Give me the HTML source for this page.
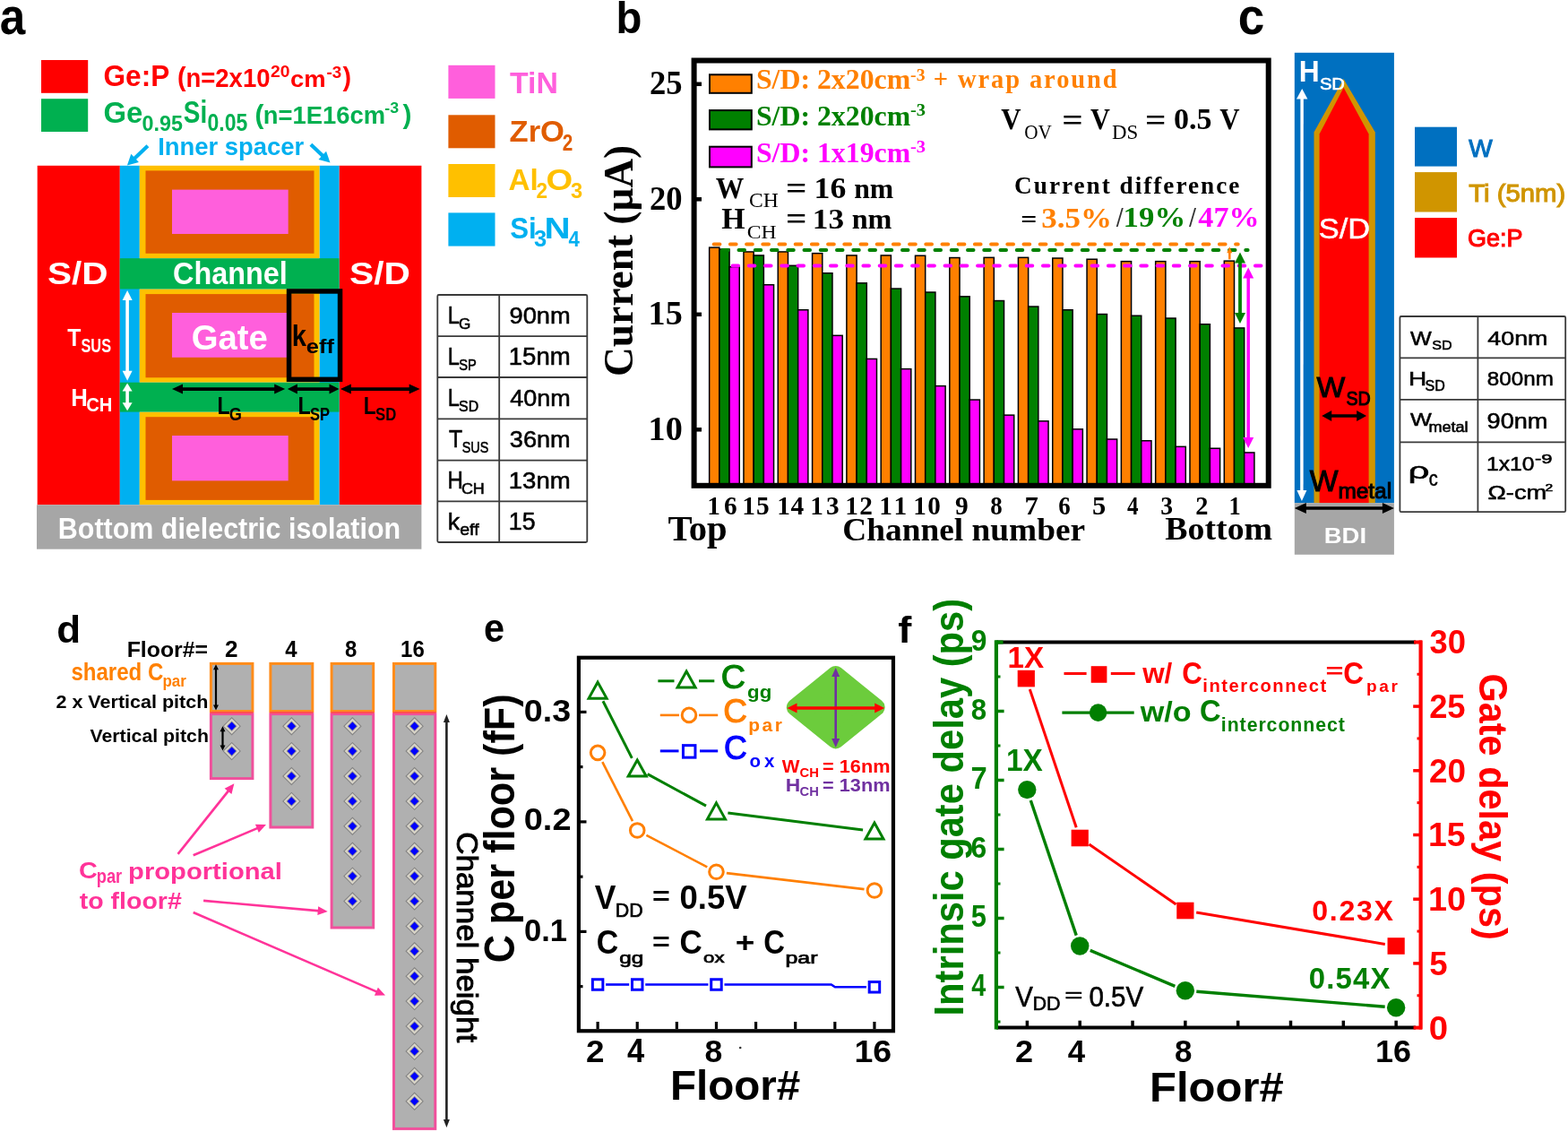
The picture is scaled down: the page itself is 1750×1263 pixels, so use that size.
<!DOCTYPE html>
<html><head><meta charset="utf-8"><title>Figure</title>
<style>
html,body{margin:0;padding:0;background:#fff;}
svg{display:block;}
text{white-space:pre;}
</style></head><body>
<svg width="1750" height="1263" viewBox="0 0 1750 1263">
<rect x="0" y="0" width="1750" height="1263" fill="#fff"/>
<text transform="translate(-0.34,38.20) scale(0.8918,1)" font-family="'Liberation Sans', Arial, sans-serif" font-weight="bold" font-size="57.49" fill="#000">a</text>
<rect x="46.00" y="67.00" width="52.20" height="36.80" fill="#FF0000"/>
<rect x="46.00" y="110.20" width="52.20" height="36.80" fill="#00B050"/>
<text transform="translate(115.54,96.00) scale(0.9417,1)" font-family="'Liberation Sans', Arial, sans-serif" font-weight="bold" font-size="33.55" fill="#FF0000">Ge:P</text>
<text transform="translate(198.07,96.00)" font-family="'Liberation Sans', Arial, sans-serif" font-weight="bold" font-size="28.69" fill="#FF0000">(</text>
<text transform="translate(207.41,96.50) scale(0.9368,1)" font-family="'Liberation Sans', Arial, sans-serif" font-weight="bold" font-size="29.39" fill="#FF0000">n=2x10</text>
<text transform="translate(302.12,85.60) scale(1.0530,1)" font-family="'Liberation Sans', Arial, sans-serif" font-weight="bold" font-size="18.35" fill="#FF0000">20</text>
<text transform="translate(324.10,96.50) scale(1.0449,1)" font-family="'Liberation Sans', Arial, sans-serif" font-weight="bold" font-size="26.23" fill="#FF0000">cm</text>
<text transform="translate(364.45,87.20) scale(1.0194,1)" font-family="'Liberation Sans', Arial, sans-serif" font-weight="bold" font-size="18.35" fill="#FF0000">-3</text>
<text transform="translate(382.43,96.00)" font-family="'Liberation Sans', Arial, sans-serif" font-weight="bold" font-size="28.69" fill="#FF0000">)</text>
<text transform="translate(115.49,136.80) scale(0.9794,1)" font-family="'Liberation Sans', Arial, sans-serif" font-weight="bold" font-size="33.55" fill="#00B050">Ge</text>
<text transform="translate(158.47,145.80) scale(1.0044,1)" font-family="'Liberation Sans', Arial, sans-serif" font-weight="bold" font-size="23.23" fill="#00B050">0.95</text>
<text transform="translate(204.76,136.80) scale(0.8165,1)" font-family="'Liberation Sans', Arial, sans-serif" font-weight="bold" font-size="34.21" fill="#00B050">Si</text>
<text transform="translate(231.48,146.40) scale(0.8359,1)" font-family="'Liberation Sans', Arial, sans-serif" font-weight="bold" font-size="27.53" fill="#00B050">0.05</text>
<text transform="translate(284.51,137.60)" font-family="'Liberation Sans', Arial, sans-serif" font-weight="bold" font-size="29.79" fill="#00B050">(</text>
<text transform="translate(293.82,137.60) scale(0.9947,1)" font-family="'Liberation Sans', Arial, sans-serif" font-weight="bold" font-size="27.53" fill="#00B050">n=1E16cm</text>
<text transform="translate(429.29,125.60) scale(1.1037,1)" font-family="'Liberation Sans', Arial, sans-serif" font-weight="bold" font-size="16.06" fill="#00B050">-3</text>
<text transform="translate(449.43,137.60)" font-family="'Liberation Sans', Arial, sans-serif" font-weight="bold" font-size="29.79" fill="#00B050">)</text>
<rect x="500.40" y="72.80" width="52.10" height="37.10" fill="#FF5FDC"/>
<rect x="500.40" y="128.30" width="52.10" height="37.00" fill="#E05C00"/>
<rect x="500.40" y="183.00" width="52.10" height="37.00" fill="#FFC000"/>
<rect x="500.40" y="237.40" width="52.10" height="37.20" fill="#00B0F0"/>
<text transform="translate(568.96,103.70) scale(1.0358,1)" font-family="'Liberation Sans', Arial, sans-serif" font-weight="bold" font-size="32.69" fill="#FF5FDC">TiN</text>
<text transform="translate(568.56,158.40) scale(1.0167,1)" font-family="'Liberation Sans', Arial, sans-serif" font-weight="bold" font-size="33.98" fill="#E05C00">ZrO</text>
<text transform="translate(627.77,167.50) scale(0.7943,1)" font-family="'Liberation Sans', Arial, sans-serif" font-weight="bold" font-size="26.09" fill="#E05C00">2</text>
<text transform="translate(567.47,212.10) scale(0.9802,1)" font-family="'Liberation Sans', Arial, sans-serif" font-weight="bold" font-size="33.93" fill="#FFC000">Al</text>
<text transform="translate(598.51,221.20) scale(0.9108,1)" font-family="'Liberation Sans', Arial, sans-serif" font-weight="bold" font-size="24.80" fill="#FFC000">2</text>
<text transform="translate(609.57,212.10) scale(1.1222,1)" font-family="'Liberation Sans', Arial, sans-serif" font-weight="bold" font-size="33.98" fill="#FFC000">O</text>
<text transform="translate(637.07,221.20) scale(0.9563,1)" font-family="'Liberation Sans', Arial, sans-serif" font-weight="bold" font-size="24.80" fill="#FFC000">3</text>
<text transform="translate(569.26,265.80) scale(0.9208,1)" font-family="'Liberation Sans', Arial, sans-serif" font-weight="bold" font-size="33.93" fill="#00B0F0">Si</text>
<text transform="translate(596.03,275.00) scale(1.0233,1)" font-family="'Liberation Sans', Arial, sans-serif" font-weight="bold" font-size="24.95" fill="#00B0F0">3</text>
<text transform="translate(607.48,265.80) scale(1.2164,1)" font-family="'Liberation Sans', Arial, sans-serif" font-weight="bold" font-size="33.16" fill="#00B0F0">N</text>
<text transform="translate(634.47,275.00) scale(0.9268,1)" font-family="'Liberation Sans', Arial, sans-serif" font-weight="bold" font-size="24.00" fill="#00B0F0">4</text>
<rect x="41.70" y="184.80" width="92.10" height="378.50" fill="#FF0000"/>
<rect x="378.50" y="184.80" width="91.90" height="378.50" fill="#FF0000"/>
<rect x="133.80" y="184.80" width="22.00" height="378.50" fill="#00B0F0"/>
<rect x="356.50" y="184.80" width="22.00" height="378.50" fill="#00B0F0"/>
<rect x="155.80" y="184.80" width="200.70" height="103.40" fill="#FFC000"/>
<rect x="162.50" y="190.40" width="188.00" height="92.40" fill="#E05C00"/>
<rect x="155.80" y="322.50" width="200.70" height="104.20" fill="#FFC000"/>
<rect x="162.50" y="328.10" width="188.00" height="93.20" fill="#E05C00"/>
<rect x="155.80" y="459.60" width="200.70" height="103.70" fill="#FFC000"/>
<rect x="162.50" y="465.20" width="188.00" height="92.70" fill="#E05C00"/>
<rect x="133.80" y="288.20" width="244.70" height="34.30" fill="#00B050"/>
<rect x="133.80" y="426.70" width="244.70" height="32.90" fill="#00B050"/>
<rect x="192.00" y="211.60" width="129.70" height="49.40" fill="#FF5FDC"/>
<rect x="192.00" y="349.00" width="129.70" height="49.80" fill="#FF5FDC"/>
<rect x="192.00" y="486.00" width="129.70" height="50.40" fill="#FF5FDC"/>
<rect x="41.00" y="563.30" width="429.40" height="49.40" fill="#A6A6A6"/>
<rect x="322.55" y="324.95" width="57" height="98.4" fill="none" stroke="#000" stroke-width="5.5"/>
<line x1="142.10" y1="332.70" x2="142.10" y2="416.00" stroke="#fff" stroke-width="3.6"/>
<polygon points="142.10,424.80 136.60,413.80 147.60,413.80" fill="#fff"/>
<polygon points="142.10,323.90 147.60,334.90 136.60,334.90" fill="#fff"/>
<line x1="142.10" y1="434.80" x2="142.10" y2="451.10" stroke="#fff" stroke-width="3.6"/>
<polygon points="142.10,458.30 136.60,449.30 147.60,449.30" fill="#fff"/>
<polygon points="142.10,427.60 147.60,436.60 136.60,436.60" fill="#fff"/>
<line x1="201.60" y1="434.10" x2="308.60" y2="434.10" stroke="#000" stroke-width="3.8"/>
<polygon points="318.20,434.10 306.20,439.60 306.20,428.60" fill="#000"/>
<polygon points="192.00,434.10 204.00,428.60 204.00,439.60" fill="#000"/>
<line x1="329.70" y1="434.10" x2="369.70" y2="434.10" stroke="#000" stroke-width="3.8"/>
<polygon points="378.50,434.10 367.50,439.60 367.50,428.60" fill="#000"/>
<polygon points="320.90,434.10 331.90,428.60 331.90,439.60" fill="#000"/>
<line x1="389.50" y1="434.10" x2="459.00" y2="434.10" stroke="#000" stroke-width="3.8"/>
<polygon points="468.60,434.10 456.60,439.60 456.60,428.60" fill="#000"/>
<polygon points="379.90,434.10 391.90,428.60 391.90,439.60" fill="#000"/>
<line x1="164.90" y1="162.80" x2="148.87" y2="178.00" stroke="#00B0F0" stroke-width="4.2"/>
<polygon points="141.90,184.60 146.31,171.81 154.91,180.88" fill="#00B0F0"/>
<line x1="346.90" y1="161.30" x2="361.50" y2="175.03" stroke="#00B0F0" stroke-width="4.2"/>
<polygon points="368.50,181.60 355.48,177.94 364.04,168.83" fill="#00B0F0"/>
<text transform="translate(176.15,173.00) scale(0.9678,1)" font-family="'Liberation Sans', Arial, sans-serif" font-weight="bold" font-size="28.36" fill="#00B0F0">Inner spacer</text>
<text transform="translate(52.88,317.30) scale(1.1409,1)" font-family="'Liberation Sans', Arial, sans-serif" font-weight="bold" font-size="35.56" fill="#fff">S/D</text>
<text transform="translate(389.98,317.30) scale(1.1462,1)" font-family="'Liberation Sans', Arial, sans-serif" font-weight="bold" font-size="35.56" fill="#fff">S/D</text>
<text transform="translate(193.00,317.30) scale(0.9475,1)" font-family="'Liberation Sans', Arial, sans-serif" font-weight="bold" font-size="34.21" fill="#fff">Channel</text>
<text transform="translate(213.77,389.70) scale(0.9744,1)" font-family="'Liberation Sans', Arial, sans-serif" font-weight="bold" font-size="39.28" fill="#fff">Gate</text>
<text transform="translate(75.15,385.60) scale(0.8861,1)" font-family="'Liberation Sans', Arial, sans-serif" font-weight="bold" font-size="27.93" fill="#fff">T</text>
<text transform="translate(90.51,392.50) scale(0.7336,1)" font-family="'Liberation Sans', Arial, sans-serif" font-weight="bold" font-size="22.22" fill="#fff">SUS</text>
<text transform="translate(79.17,452.80) scale(0.9203,1)" font-family="'Liberation Sans', Arial, sans-serif" font-weight="bold" font-size="27.93" fill="#fff">H</text>
<text transform="translate(96.19,458.80) scale(0.9514,1)" font-family="'Liberation Sans', Arial, sans-serif" font-weight="bold" font-size="21.22" fill="#fff">CH</text>
<text transform="translate(325.76,385.60) scale(0.8550,1)" font-family="'Liberation Sans', Arial, sans-serif" font-weight="bold" font-size="34.07" fill="#000">k</text>
<text transform="translate(341.78,393.80) scale(1.1694,1)" font-family="'Liberation Sans', Arial, sans-serif" font-weight="bold" font-size="21.79" fill="#000">eff</text>
<text transform="translate(242.53,461.60) scale(0.8676,1)" font-family="'Liberation Sans', Arial, sans-serif" font-weight="bold" font-size="26.76" fill="#000">L</text>
<text transform="translate(255.77,468.70) scale(0.9277,1)" font-family="'Liberation Sans', Arial, sans-serif" font-weight="bold" font-size="19.64" fill="#000">G</text>
<text transform="translate(332.42,461.60) scale(0.8749,1)" font-family="'Liberation Sans', Arial, sans-serif" font-weight="bold" font-size="26.76" fill="#000">L</text>
<text transform="translate(346.00,468.70) scale(0.8419,1)" font-family="'Liberation Sans', Arial, sans-serif" font-weight="bold" font-size="19.64" fill="#000">SP</text>
<text transform="translate(405.76,461.60) scale(0.8530,1)" font-family="'Liberation Sans', Arial, sans-serif" font-weight="bold" font-size="26.76" fill="#000">L</text>
<text transform="translate(419.00,468.70) scale(0.8540,1)" font-family="'Liberation Sans', Arial, sans-serif" font-weight="bold" font-size="19.64" fill="#000">SD</text>
<text transform="translate(64.84,600.90) scale(0.9317,1)" font-family="'Liberation Sans', Arial, sans-serif" font-weight="bold" font-size="32.69" fill="#fff">Bottom dielectric isolation</text>
<rect x="488.3" y="329" width="166.99999999999994" height="276" fill="none" stroke="#3a3a3a" stroke-width="1.8" rx="1.5"/>
<line x1="557.20" y1="329.00" x2="557.20" y2="605.00" stroke="#3a3a3a" stroke-width="1.8"/>
<line x1="488.30" y1="375.10" x2="655.30" y2="375.10" stroke="#3a3a3a" stroke-width="1.8"/>
<line x1="488.30" y1="421.00" x2="655.30" y2="421.00" stroke="#3a3a3a" stroke-width="1.8"/>
<line x1="488.30" y1="467.30" x2="655.30" y2="467.30" stroke="#3a3a3a" stroke-width="1.8"/>
<line x1="488.30" y1="513.60" x2="655.30" y2="513.60" stroke="#3a3a3a" stroke-width="1.8"/>
<line x1="488.30" y1="559.40" x2="655.30" y2="559.40" stroke="#3a3a3a" stroke-width="1.8"/>
<text transform="translate(568.50,360.90) scale(1.0225,1)" font-family="'Liberation Sans', Arial, sans-serif" font-weight="normal" font-size="26.67" fill="#000" stroke="#000" stroke-width="0.55">90nm</text>
<text transform="translate(499.65,360.90) scale(0.8737,1)" font-family="'Liberation Sans', Arial, sans-serif" font-weight="normal" font-size="27.05" fill="#000" stroke="#000" stroke-width="0.55">L</text>
<text transform="translate(511.94,366.90) scale(1.0321,1)" font-family="'Liberation Sans', Arial, sans-serif" font-weight="normal" font-size="16.63" fill="#000" stroke="#000" stroke-width="0.55">G</text>
<text transform="translate(567.73,407.00) scale(1.0196,1)" font-family="'Liberation Sans', Arial, sans-serif" font-weight="normal" font-size="27.05" fill="#000" stroke="#000" stroke-width="0.55">15nm</text>
<text transform="translate(499.65,407.00) scale(0.8737,1)" font-family="'Liberation Sans', Arial, sans-serif" font-weight="normal" font-size="27.05" fill="#000" stroke="#000" stroke-width="0.55">L</text>
<text transform="translate(512.14,413.00) scale(0.8843,1)" font-family="'Liberation Sans', Arial, sans-serif" font-weight="normal" font-size="16.63" fill="#000" stroke="#000" stroke-width="0.55">SP</text>
<text transform="translate(569.19,453.10) scale(1.0119,1)" font-family="'Liberation Sans', Arial, sans-serif" font-weight="normal" font-size="26.67" fill="#000" stroke="#000" stroke-width="0.55">40nm</text>
<text transform="translate(499.65,453.10) scale(0.8737,1)" font-family="'Liberation Sans', Arial, sans-serif" font-weight="normal" font-size="27.05" fill="#000" stroke="#000" stroke-width="0.55">L</text>
<text transform="translate(512.09,459.10) scale(0.9547,1)" font-family="'Liberation Sans', Arial, sans-serif" font-weight="normal" font-size="16.63" fill="#000" stroke="#000" stroke-width="0.55">SD</text>
<text transform="translate(568.78,499.20) scale(1.0182,1)" font-family="'Liberation Sans', Arial, sans-serif" font-weight="normal" font-size="26.67" fill="#000" stroke="#000" stroke-width="0.55">36nm</text>
<text transform="translate(501.04,499.20) scale(0.9159,1)" font-family="'Liberation Sans', Arial, sans-serif" font-weight="normal" font-size="27.05" fill="#000" stroke="#000" stroke-width="0.55">T</text>
<text transform="translate(515.76,505.20) scale(0.8618,1)" font-family="'Liberation Sans', Arial, sans-serif" font-weight="normal" font-size="16.63" fill="#000" stroke="#000" stroke-width="0.55">SUS</text>
<text transform="translate(567.73,545.30) scale(1.0344,1)" font-family="'Liberation Sans', Arial, sans-serif" font-weight="normal" font-size="26.67" fill="#000" stroke="#000" stroke-width="0.55">13nm</text>
<text transform="translate(499.62,545.30) scale(0.8884,1)" font-family="'Liberation Sans', Arial, sans-serif" font-weight="normal" font-size="27.05" fill="#000" stroke="#000" stroke-width="0.55">H</text>
<text transform="translate(514.90,551.30) scale(1.0812,1)" font-family="'Liberation Sans', Arial, sans-serif" font-weight="normal" font-size="16.63" fill="#000" stroke="#000" stroke-width="0.55">CH</text>
<text transform="translate(567.79,591.40) scale(0.9881,1)" font-family="'Liberation Sans', Arial, sans-serif" font-weight="normal" font-size="27.05" fill="#000" stroke="#000" stroke-width="0.55">15</text>
<text transform="translate(499.79,591.40) scale(1.0181,1)" font-family="'Liberation Sans', Arial, sans-serif" font-weight="normal" font-size="26.34" fill="#000" stroke="#000" stroke-width="0.55">k</text>
<text transform="translate(513.17,597.40) scale(1.0475,1)" font-family="'Liberation Sans', Arial, sans-serif" font-weight="normal" font-size="18.69" fill="#000" stroke="#000" stroke-width="0.55">eff</text>
<text transform="translate(687.42,37.20) scale(0.9638,1)" font-family="'Liberation Sans', Arial, sans-serif" font-weight="bold" font-size="49.10" fill="#000">b</text>
<rect x="791.65" y="276.15" width="11.20" height="265.60" fill="#FF8000" stroke="#000" stroke-width="1.5"/>
<rect x="802.85" y="278.05" width="11.20" height="263.70" fill="#008000" stroke="#000" stroke-width="1.5"/>
<rect x="814.05" y="297.75" width="11.20" height="244.00" fill="#FF00FF" stroke="#000" stroke-width="1.5"/>
<rect x="829.96" y="280.95" width="11.20" height="260.80" fill="#FF8000" stroke="#000" stroke-width="1.5"/>
<rect x="841.16" y="284.95" width="11.20" height="256.80" fill="#008000" stroke="#000" stroke-width="1.5"/>
<rect x="852.36" y="317.75" width="11.20" height="224.00" fill="#FF00FF" stroke="#000" stroke-width="1.5"/>
<rect x="868.27" y="280.95" width="11.20" height="260.80" fill="#FF8000" stroke="#000" stroke-width="1.5"/>
<rect x="879.47" y="296.35" width="11.20" height="245.40" fill="#008000" stroke="#000" stroke-width="1.5"/>
<rect x="890.67" y="345.75" width="11.20" height="196.00" fill="#FF00FF" stroke="#000" stroke-width="1.5"/>
<rect x="906.58" y="282.65" width="11.20" height="259.10" fill="#FF8000" stroke="#000" stroke-width="1.5"/>
<rect x="917.78" y="304.75" width="11.20" height="237.00" fill="#008000" stroke="#000" stroke-width="1.5"/>
<rect x="928.98" y="374.35" width="11.20" height="167.40" fill="#FF00FF" stroke="#000" stroke-width="1.5"/>
<rect x="944.89" y="284.95" width="11.20" height="256.80" fill="#FF8000" stroke="#000" stroke-width="1.5"/>
<rect x="956.09" y="315.85" width="11.20" height="225.90" fill="#008000" stroke="#000" stroke-width="1.5"/>
<rect x="967.29" y="400.45" width="11.20" height="141.30" fill="#FF00FF" stroke="#000" stroke-width="1.5"/>
<rect x="983.20" y="284.95" width="11.20" height="256.80" fill="#FF8000" stroke="#000" stroke-width="1.5"/>
<rect x="994.40" y="322.05" width="11.20" height="219.70" fill="#008000" stroke="#000" stroke-width="1.5"/>
<rect x="1005.60" y="411.65" width="11.20" height="130.10" fill="#FF00FF" stroke="#000" stroke-width="1.5"/>
<rect x="1021.51" y="285.25" width="11.20" height="256.50" fill="#FF8000" stroke="#000" stroke-width="1.5"/>
<rect x="1032.71" y="326.05" width="11.20" height="215.70" fill="#008000" stroke="#000" stroke-width="1.5"/>
<rect x="1043.91" y="430.65" width="11.20" height="111.10" fill="#FF00FF" stroke="#000" stroke-width="1.5"/>
<rect x="1059.82" y="287.55" width="11.20" height="254.20" fill="#FF8000" stroke="#000" stroke-width="1.5"/>
<rect x="1071.02" y="330.85" width="11.20" height="210.90" fill="#008000" stroke="#000" stroke-width="1.5"/>
<rect x="1082.22" y="446.05" width="11.20" height="95.70" fill="#FF00FF" stroke="#000" stroke-width="1.5"/>
<rect x="1098.13" y="287.35" width="11.20" height="254.40" fill="#FF8000" stroke="#000" stroke-width="1.5"/>
<rect x="1109.33" y="335.55" width="11.20" height="206.20" fill="#008000" stroke="#000" stroke-width="1.5"/>
<rect x="1120.53" y="463.15" width="11.20" height="78.60" fill="#FF00FF" stroke="#000" stroke-width="1.5"/>
<rect x="1136.44" y="287.35" width="11.20" height="254.40" fill="#FF8000" stroke="#000" stroke-width="1.5"/>
<rect x="1147.64" y="342.05" width="11.20" height="199.70" fill="#008000" stroke="#000" stroke-width="1.5"/>
<rect x="1158.84" y="469.85" width="11.20" height="71.90" fill="#FF00FF" stroke="#000" stroke-width="1.5"/>
<rect x="1174.75" y="288.05" width="11.20" height="253.70" fill="#FF8000" stroke="#000" stroke-width="1.5"/>
<rect x="1185.95" y="345.75" width="11.20" height="196.00" fill="#008000" stroke="#000" stroke-width="1.5"/>
<rect x="1197.15" y="478.85" width="11.20" height="62.90" fill="#FF00FF" stroke="#000" stroke-width="1.5"/>
<rect x="1213.06" y="289.25" width="11.20" height="252.50" fill="#FF8000" stroke="#000" stroke-width="1.5"/>
<rect x="1224.26" y="350.55" width="11.20" height="191.20" fill="#008000" stroke="#000" stroke-width="1.5"/>
<rect x="1235.46" y="490.05" width="11.20" height="51.70" fill="#FF00FF" stroke="#000" stroke-width="1.5"/>
<rect x="1251.37" y="291.65" width="11.20" height="250.10" fill="#FF8000" stroke="#000" stroke-width="1.5"/>
<rect x="1262.57" y="352.25" width="11.20" height="189.50" fill="#008000" stroke="#000" stroke-width="1.5"/>
<rect x="1273.77" y="491.75" width="11.20" height="50.00" fill="#FF00FF" stroke="#000" stroke-width="1.5"/>
<rect x="1289.68" y="291.65" width="11.20" height="250.10" fill="#FF8000" stroke="#000" stroke-width="1.5"/>
<rect x="1300.88" y="355.05" width="11.20" height="186.70" fill="#008000" stroke="#000" stroke-width="1.5"/>
<rect x="1312.08" y="498.35" width="11.20" height="43.40" fill="#FF00FF" stroke="#000" stroke-width="1.5"/>
<rect x="1327.99" y="291.65" width="11.20" height="250.10" fill="#FF8000" stroke="#000" stroke-width="1.5"/>
<rect x="1339.19" y="361.75" width="11.20" height="180.00" fill="#008000" stroke="#000" stroke-width="1.5"/>
<rect x="1350.39" y="500.25" width="11.20" height="41.50" fill="#FF00FF" stroke="#000" stroke-width="1.5"/>
<rect x="1366.30" y="291.15" width="11.20" height="250.60" fill="#FF8000" stroke="#000" stroke-width="1.5"/>
<rect x="1377.50" y="365.95" width="11.20" height="175.80" fill="#008000" stroke="#000" stroke-width="1.5"/>
<rect x="1388.70" y="504.95" width="11.20" height="36.80" fill="#FF00FF" stroke="#000" stroke-width="1.5"/>
<line x1="796.7" y1="272.6" x2="1381.7" y2="272.6" stroke="#FF8000" stroke-width="4" stroke-dasharray="6.7,11.5" stroke-linecap="round"/>
<line x1="806.25" y1="279.1" x2="1392.6" y2="279.1" stroke="#008000" stroke-width="4" stroke-dasharray="6.5,11.75" stroke-linecap="round"/>
<line x1="817.6" y1="296.6" x2="1407.8" y2="296.6" stroke="#FF00FF" stroke-width="4" stroke-dasharray="6.5,11.73" stroke-linecap="round"/>
<line x1="1384.00" y1="291.00" x2="1384.00" y2="351.50" stroke="#008000" stroke-width="3.8"/>
<polygon points="1384.00,361.10 1378.00,349.10 1390.00,349.10" fill="#008000"/>
<polygon points="1384.00,281.40 1390.00,293.40 1378.00,293.40" fill="#008000"/>
<line x1="1393.20" y1="308.10" x2="1393.20" y2="490.40" stroke="#FF00FF" stroke-width="3.5"/>
<polygon points="1393.20,500.00 1387.20,488.00 1399.20,488.00" fill="#FF00FF"/>
<polygon points="1393.20,298.50 1399.20,310.50 1387.20,310.50" fill="#FF00FF"/>
<line x1="1372.30" y1="289.40" x2="1372.30" y2="280.80" stroke="#FF8000" stroke-width="2.5"/>
<polygon points="1372.30,275.20 1375.30,282.20 1369.30,282.20" fill="#FF8000"/>
<rect x="774.6" y="67.5" width="641.1" height="474.3" fill="none" stroke="#000" stroke-width="6"/>
<line x1="777.00" y1="93.80" x2="783.00" y2="93.80" stroke="#000" stroke-width="4.5"/>
<text transform="translate(725.04,105.30) scale(0.9517,1)" font-family="'Liberation Serif', 'Times New Roman', serif" font-weight="bold" font-size="38.49" fill="#000">25</text>
<line x1="777.00" y1="222.30" x2="783.00" y2="222.30" stroke="#000" stroke-width="4.5"/>
<text transform="translate(725.04,233.80) scale(0.9553,1)" font-family="'Liberation Serif', 'Times New Roman', serif" font-weight="bold" font-size="38.35" fill="#000">20</text>
<line x1="777.00" y1="350.80" x2="783.00" y2="350.80" stroke="#000" stroke-width="4.5"/>
<text transform="translate(723.55,362.30) scale(0.9884,1)" font-family="'Liberation Serif', 'Times New Roman', serif" font-weight="bold" font-size="38.64" fill="#000">15</text>
<line x1="777.00" y1="479.30" x2="783.00" y2="479.30" stroke="#000" stroke-width="4.5"/>
<text transform="translate(723.55,490.80) scale(0.9959,1)" font-family="'Liberation Serif', 'Times New Roman', serif" font-weight="bold" font-size="38.35" fill="#000">10</text>
<text transform="translate(706.40,419.96) rotate(-90) scale(0.9671,1)" font-family="'Liberation Serif', 'Times New Roman', serif" font-weight="bold" font-size="46.94" fill="#000">Current (μA)</text>
<text transform="translate(789.26,574.30)" font-family="'Liberation Serif', 'Times New Roman', serif" font-weight="bold" font-size="29.28" fill="#000" letter-spacing="4.04">16</text>
<text transform="translate(828.25,574.30)" font-family="'Liberation Serif', 'Times New Roman', serif" font-weight="bold" font-size="29.39" fill="#000" letter-spacing="1.16">15</text>
<text transform="translate(867.25,574.30)" font-family="'Liberation Serif', 'Times New Roman', serif" font-weight="bold" font-size="29.39" fill="#000" letter-spacing="0.57">14</text>
<text transform="translate(904.26,574.30)" font-family="'Liberation Serif', 'Times New Roman', serif" font-weight="bold" font-size="29.28" fill="#000" letter-spacing="3.18">13</text>
<text transform="translate(943.26,574.30)" font-family="'Liberation Serif', 'Times New Roman', serif" font-weight="bold" font-size="29.28" fill="#000" letter-spacing="1.40">12</text>
<text transform="translate(981.25,574.30)" font-family="'Liberation Serif', 'Times New Roman', serif" font-weight="bold" font-size="29.39" fill="#000" letter-spacing="3.22">11</text>
<text transform="translate(1019.27,574.30)" font-family="'Liberation Serif', 'Times New Roman', serif" font-weight="bold" font-size="29.17" fill="#000" letter-spacing="1.35">10</text>
<text transform="translate(1066.09,574.30) scale(1.0069,1)" font-family="'Liberation Serif', 'Times New Roman', serif" font-weight="bold" font-size="29.28" fill="#000">9</text>
<text transform="translate(1105.23,574.30) scale(0.9220,1)" font-family="'Liberation Serif', 'Times New Roman', serif" font-weight="bold" font-size="29.17" fill="#000">8</text>
<text transform="translate(1143.44,574.30) scale(1.0351,1)" font-family="'Liberation Serif', 'Times New Roman', serif" font-weight="bold" font-size="29.62" fill="#000">7</text>
<text transform="translate(1181.26,574.30) scale(0.9185,1)" font-family="'Liberation Serif', 'Times New Roman', serif" font-weight="bold" font-size="29.28" fill="#000">6</text>
<text transform="translate(1218.98,574.30) scale(1.0309,1)" font-family="'Liberation Serif', 'Times New Roman', serif" font-weight="bold" font-size="29.62" fill="#000">5</text>
<text transform="translate(1257.99,574.30) scale(0.8509,1)" font-family="'Liberation Serif', 'Times New Roman', serif" font-weight="bold" font-size="29.51" fill="#000">4</text>
<text transform="translate(1295.26,574.30) scale(0.9426,1)" font-family="'Liberation Serif', 'Times New Roman', serif" font-weight="bold" font-size="29.28" fill="#000">3</text>
<text transform="translate(1334.19,574.30) scale(0.9710,1)" font-family="'Liberation Serif', 'Times New Roman', serif" font-weight="bold" font-size="29.28" fill="#000">2</text>
<text transform="translate(1371.39,574.30) scale(0.8980,1)" font-family="'Liberation Serif', 'Times New Roman', serif" font-weight="bold" font-size="29.39" fill="#000">1</text>
<text transform="translate(745.39,603.00) scale(1.0237,1)" font-family="'Liberation Serif', 'Times New Roman', serif" font-weight="bold" font-size="39.69" fill="#000">Top</text>
<text transform="translate(940.22,602.50) scale(1.0392,1)" font-family="'Liberation Serif', 'Times New Roman', serif" font-weight="bold" font-size="35.97" fill="#000">Channel number</text>
<text transform="translate(1300.34,602.40) scale(1.0634,1)" font-family="'Liberation Serif', 'Times New Roman', serif" font-weight="bold" font-size="35.57" fill="#000">Bottom</text>
<rect x="792" y="83.3" width="46.799999999999955" height="20.5" fill="#FF8000" stroke="#000" stroke-width="2"/>
<rect x="792" y="123.1" width="46.799999999999955" height="21.30000000000001" fill="#008000" stroke="#000" stroke-width="2"/>
<rect x="792" y="163.7" width="46.799999999999955" height="22.700000000000017" fill="#FF00FF" stroke="#000" stroke-width="2"/>
<text transform="translate(843.93,98.70) scale(0.9846,1)" font-family="'Liberation Serif', 'Times New Roman', serif" font-weight="bold" font-size="32.30" fill="#FF8000">S/D: 2x20cm</text>
<text transform="translate(1016.06,90.10) scale(1.0215,1)" font-family="'Liberation Serif', 'Times New Roman', serif" font-weight="bold" font-size="19.32" fill="#FF8000">-3</text>
<text transform="translate(1041.80,98.00)" font-family="'Liberation Serif', 'Times New Roman', serif" font-weight="bold" font-size="28.49" fill="#FF8000" letter-spacing="1.91">+ wrap around</text>
<text transform="translate(843.93,139.80) scale(0.9893,1)" font-family="'Liberation Serif', 'Times New Roman', serif" font-weight="bold" font-size="32.15" fill="#008000">S/D: 2x20cm</text>
<text transform="translate(1016.03,128.90) scale(1.1239,1)" font-family="'Liberation Serif', 'Times New Roman', serif" font-weight="bold" font-size="18.26" fill="#008000">-3</text>
<text transform="translate(843.93,180.90) scale(0.9893,1)" font-family="'Liberation Serif', 'Times New Roman', serif" font-weight="bold" font-size="32.15" fill="#FF00FF">S/D: 1x19cm</text>
<text transform="translate(1016.03,170.10) scale(1.0624,1)" font-family="'Liberation Serif', 'Times New Roman', serif" font-weight="bold" font-size="19.32" fill="#FF00FF">-3</text>
<text transform="translate(798.73,220.60) scale(0.9308,1)" font-family="'Liberation Serif', 'Times New Roman', serif" font-weight="bold" font-size="33.89" fill="#000">W</text>
<text transform="translate(836.05,231.40) scale(1.0038,1)" font-family="'Liberation Serif', 'Times New Roman', serif" font-weight="normal" font-size="23.55" fill="#000">CH</text>
<text transform="translate(876.94,221.62) scale(1.1613,1)" font-family="'Liberation Serif', 'Times New Roman', serif" font-weight="bold" font-size="35.56" fill="#000">=</text>
<text transform="translate(908.54,220.60) scale(1.0663,1)" font-family="'Liberation Serif', 'Times New Roman', serif" font-weight="bold" font-size="33.51" fill="#000">16</text>
<text transform="translate(953.13,220.60) scale(0.9943,1)" font-family="'Liberation Serif', 'Times New Roman', serif" font-weight="bold" font-size="31.91" fill="#000">nm</text>
<text transform="translate(805.21,255.40) scale(1.0257,1)" font-family="'Liberation Serif', 'Times New Roman', serif" font-weight="bold" font-size="32.98" fill="#000">H</text>
<text transform="translate(833.65,265.60) scale(1.0874,1)" font-family="'Liberation Serif', 'Times New Roman', serif" font-weight="normal" font-size="21.74" fill="#000">CH</text>
<text transform="translate(876.94,256.42) scale(1.1613,1)" font-family="'Liberation Serif', 'Times New Roman', serif" font-weight="bold" font-size="35.56" fill="#000">=</text>
<text transform="translate(906.78,255.40) scale(1.0813,1)" font-family="'Liberation Serif', 'Times New Roman', serif" font-weight="bold" font-size="32.60" fill="#000">13</text>
<text transform="translate(950.72,255.40) scale(1.0503,1)" font-family="'Liberation Serif', 'Times New Roman', serif" font-weight="bold" font-size="30.64" fill="#000">nm</text>
<text transform="translate(1117.29,144.40) scale(0.9187,1)" font-family="'Liberation Serif', 'Times New Roman', serif" font-weight="bold" font-size="33.59" fill="#000">V</text>
<text transform="translate(1143.15,154.80) scale(0.9515,1)" font-family="'Liberation Serif', 'Times New Roman', serif" font-weight="normal" font-size="22.34" fill="#000">OV</text>
<text transform="translate(1185.14,145.60) scale(1.1493,1)" font-family="'Liberation Serif', 'Times New Roman', serif" font-weight="bold" font-size="35.93" fill="#000">=</text>
<text transform="translate(1217.10,144.40) scale(0.9017,1)" font-family="'Liberation Serif', 'Times New Roman', serif" font-weight="bold" font-size="33.59" fill="#000">V</text>
<text transform="translate(1240.97,154.80) scale(1.0232,1)" font-family="'Liberation Serif', 'Times New Roman', serif" font-weight="normal" font-size="22.34" fill="#000">DS</text>
<text transform="translate(1277.94,145.60) scale(1.1493,1)" font-family="'Liberation Serif', 'Times New Roman', serif" font-weight="bold" font-size="35.93" fill="#000">=</text>
<text transform="translate(1309.92,144.40) scale(1.0385,1)" font-family="'Liberation Serif', 'Times New Roman', serif" font-weight="bold" font-size="32.78" fill="#000">0.5</text>
<text transform="translate(1361.29,144.40) scale(0.9187,1)" font-family="'Liberation Serif', 'Times New Roman', serif" font-weight="bold" font-size="33.59" fill="#000">V</text>
<text transform="translate(1132.11,215.90)" font-family="'Liberation Serif', 'Times New Roman', serif" font-weight="bold" font-size="27.23" fill="#000" letter-spacing="1.99">Current difference</text>
<text transform="translate(1139.21,254.47) scale(1.1935,1)" font-family="'Liberation Serif', 'Times New Roman', serif" font-weight="bold" font-size="26.67" fill="#000">=</text>
<text transform="translate(1162.29,254.00) scale(1.1299,1)" font-family="'Liberation Serif', 'Times New Roman', serif" font-weight="bold" font-size="30.98" fill="#FF8000">3.5%</text>
<text transform="translate(1245.97,253.40) scale(0.8625,1)" font-family="'Liberation Serif', 'Times New Roman', serif" font-weight="bold" font-size="31.18" fill="#333">/</text>
<text transform="translate(1253.62,253.20) scale(1.0815,1)" font-family="'Liberation Serif', 'Times New Roman', serif" font-weight="bold" font-size="32.18" fill="#008000">19%</text>
<text transform="translate(1327.17,253.40) scale(0.8625,1)" font-family="'Liberation Serif', 'Times New Roman', serif" font-weight="bold" font-size="31.18" fill="#333">/</text>
<text transform="translate(1337.37,253.20) scale(1.0593,1)" font-family="'Liberation Serif', 'Times New Roman', serif" font-weight="bold" font-size="32.18" fill="#FF00FF">47%</text>
<text transform="translate(1381.77,38.20) scale(0.9242,1)" font-family="'Liberation Sans', Arial, sans-serif" font-weight="bold" font-size="57.49" fill="#000">c</text>
<rect x="1444.80" y="58.80" width="111.10" height="502.50" fill="#0070C0"/>
<polygon points="1466.50,561.30 1466.50,147.50 1499.50,88.00 1534.80,147.50 1534.80,561.30" fill="#D09500"/>
<polygon points="1472.60,561.30 1472.60,149.50 1499.60,97.80 1527.60,149.50 1527.60,561.30" fill="#FF0000"/>
<rect x="1444.80" y="561.30" width="111.10" height="57.50" fill="#A6A6A6"/>
<line x1="1453.10" y1="108.00" x2="1452.90" y2="550.00" stroke="#fff" stroke-width="3.4"/>
<polygon points="1453.20,99.00 1459.40,110.50 1447.00,110.50" fill="#fff"/>
<polygon points="1452.90,559.00 1447.40,547.00 1458.40,547.00" fill="#fff"/>
<text transform="translate(1449.76,90.50) scale(0.9505,1)" font-family="'Liberation Sans', Arial, sans-serif" font-weight="bold" font-size="33.31" fill="#fff">H</text>
<text transform="translate(1472.89,100.00) scale(1.0590,1)" font-family="'Liberation Sans', Arial, sans-serif" font-weight="normal" font-size="19.07" fill="#fff" stroke="#fff" stroke-width="0.6">SD</text>
<text transform="translate(1471.75,265.90) scale(1.0716,1)" font-family="'Liberation Sans', Arial, sans-serif" font-weight="normal" font-size="32.11" fill="#fff" stroke="#fff" stroke-width="0.5">S/D</text>
<text transform="translate(1469.43,442.50) scale(1.0447,1)" font-family="'Liberation Sans', Arial, sans-serif" font-weight="normal" font-size="32.15" fill="#000" stroke="#000" stroke-width="1.0">W</text>
<text transform="translate(1502.52,452.00) scale(0.9139,1)" font-family="'Liberation Sans', Arial, sans-serif" font-weight="normal" font-size="21.51" fill="#000" stroke="#000" stroke-width="1.0">SD</text>
<line x1="1484.00" y1="464.00" x2="1516.30" y2="464.00" stroke="#000" stroke-width="3.4"/>
<polygon points="1525.10,464.00 1514.10,470.00 1514.10,458.00" fill="#000"/>
<polygon points="1475.20,464.00 1486.20,458.00 1486.20,470.00" fill="#000"/>
<text transform="translate(1461.63,547.60) scale(1.0203,1)" font-family="'Liberation Sans', Arial, sans-serif" font-weight="normal" font-size="33.02" fill="#000" stroke="#000" stroke-width="1.0">W</text>
<text transform="translate(1493.45,555.90) scale(1.0600,1)" font-family="'Liberation Sans', Arial, sans-serif" font-weight="normal" font-size="23.03" fill="#000" stroke="#000" stroke-width="1.0">metal</text>
<line x1="1455.20" y1="567.00" x2="1545.50" y2="567.00" stroke="#000" stroke-width="3.4"/>
<polygon points="1555.90,567.00 1542.90,573.00 1542.90,561.00" fill="#000"/>
<polygon points="1444.80,567.00 1457.80,561.00 1457.80,573.00" fill="#000"/>
<text transform="translate(1477.75,605.70) scale(1.1107,1)" font-family="'Liberation Sans', Arial, sans-serif" font-weight="bold" font-size="24.73" fill="#fff">BDI</text>
<rect x="1579.00" y="141.70" width="47.00" height="43.90" fill="#0070C0"/>
<rect x="1579.00" y="192.10" width="47.00" height="44.40" fill="#D09500"/>
<rect x="1579.00" y="243.00" width="47.00" height="44.50" fill="#FF0000"/>
<text transform="translate(1639.26,175.30) scale(0.9879,1)" font-family="'Liberation Sans', Arial, sans-serif" font-weight="normal" font-size="28.36" fill="#0070C0" stroke="#0070C0" stroke-width="1.1">W</text>
<text transform="translate(1639.24,225.20) scale(1.0388,1)" font-family="'Liberation Sans', Arial, sans-serif" font-weight="normal" font-size="28.22" fill="#D09500" stroke="#D09500" stroke-width="1.1">Ti (5nm)</text>
<text transform="translate(1638.05,274.50) scale(0.9759,1)" font-family="'Liberation Sans', Arial, sans-serif" font-weight="normal" font-size="27.67" fill="#FF0000" stroke="#FF0000" stroke-width="1.1">Ge:P</text>
<rect x="1562.4" y="353" width="184.79999999999995" height="218.20000000000005" fill="none" stroke="#3a3a3a" stroke-width="1.8" rx="1.5"/>
<line x1="1649.40" y1="353.00" x2="1649.40" y2="571.20" stroke="#3a3a3a" stroke-width="1.8"/>
<line x1="1562.40" y1="399.30" x2="1747.20" y2="399.30" stroke="#3a3a3a" stroke-width="1.8"/>
<line x1="1562.40" y1="445.80" x2="1747.20" y2="445.80" stroke="#3a3a3a" stroke-width="1.8"/>
<line x1="1562.40" y1="493.40" x2="1747.20" y2="493.40" stroke="#3a3a3a" stroke-width="1.8"/>
<text transform="translate(1574.07,384.90) scale(1.1006,1)" font-family="'Liberation Sans', Arial, sans-serif" font-weight="normal" font-size="22.84" fill="#000" stroke="#000" stroke-width="0.55">W</text>
<text transform="translate(1598.28,390.10) scale(1.0803,1)" font-family="'Liberation Sans', Arial, sans-serif" font-weight="normal" font-size="14.91" fill="#000" stroke="#000" stroke-width="0.55">SD</text>
<text transform="translate(1660.30,384.90) scale(1.1933,1)" font-family="'Liberation Sans', Arial, sans-serif" font-weight="normal" font-size="22.51" fill="#000" stroke="#000" stroke-width="0.55">40nm</text>
<text transform="translate(1571.89,429.90) scale(1.2911,1)" font-family="'Liberation Sans', Arial, sans-serif" font-weight="normal" font-size="21.67" fill="#000" stroke="#000" stroke-width="0.55">H</text>
<text transform="translate(1590.48,436.40) scale(1.0165,1)" font-family="'Liberation Sans', Arial, sans-serif" font-weight="normal" font-size="15.77" fill="#000" stroke="#000" stroke-width="0.55">SD</text>
<text transform="translate(1659.87,429.90) scale(1.0962,1)" font-family="'Liberation Sans', Arial, sans-serif" font-weight="normal" font-size="22.08" fill="#000" stroke="#000" stroke-width="0.55">800nm</text>
<text transform="translate(1574.07,475.10) scale(1.2000,1)" font-family="'Liberation Sans', Arial, sans-serif" font-weight="normal" font-size="20.95" fill="#000" stroke="#000" stroke-width="0.55">W</text>
<text transform="translate(1594.38,481.60) scale(1.1118,1)" font-family="'Liberation Sans', Arial, sans-serif" font-weight="normal" font-size="16.28" fill="#000" stroke="#000" stroke-width="0.55">metal</text>
<text transform="translate(1659.61,477.70) scale(1.1136,1)" font-family="'Liberation Sans', Arial, sans-serif" font-weight="normal" font-size="24.37" fill="#000" stroke="#000" stroke-width="0.55">90nm</text>
<text transform="translate(1571.46,533.64) scale(1.6022,1)" font-family="'Liberation Sans', Arial, sans-serif" font-weight="normal" font-size="26.31" fill="#000" stroke="#000" stroke-width="0.55">ρ</text>
<text transform="translate(1594.75,541.70) scale(0.8206,1)" font-family="'Liberation Sans', Arial, sans-serif" font-weight="normal" font-size="24.37" fill="#000" stroke="#000" stroke-width="0.55">c</text>
<text transform="translate(1659.06,524.70) scale(1.0918,1)" font-family="'Liberation Sans', Arial, sans-serif" font-weight="normal" font-size="22.51" fill="#000" stroke="#000" stroke-width="0.55">1x10</text>
<text transform="translate(1713.01,516.90) scale(1.4577,1)" font-family="'Liberation Sans', Arial, sans-serif" font-weight="normal" font-size="15.05" fill="#000" stroke="#000" stroke-width="0.55">-9</text>
<text transform="translate(1660.54,557.40) scale(1.2085,1)" font-family="'Liberation Sans', Arial, sans-serif" font-weight="normal" font-size="22.51" fill="#000" stroke="#000" stroke-width="0.55">Ω-cm</text>
<text transform="translate(1724.42,548.20) scale(1.3954,1)" font-family="'Liberation Sans', Arial, sans-serif" font-weight="normal" font-size="11.18" fill="#000" stroke="#000" stroke-width="0.55">2</text>
<text transform="translate(63.34,716.70) scale(1.0484,1)" font-family="'Liberation Sans', Arial, sans-serif" font-weight="bold" font-size="41.93" fill="#000">d</text>
<text transform="translate(141.72,733.10) scale(1.0278,1)" font-family="'Liberation Sans', Arial, sans-serif" font-weight="bold" font-size="24.15" fill="#000">Floor#=</text>
<text transform="translate(250.89,733.10) scale(1.0349,1)" font-family="'Liberation Sans', Arial, sans-serif" font-weight="bold" font-size="25.23" fill="#000">2</text>
<text transform="translate(318.24,733.10) scale(0.9346,1)" font-family="'Liberation Sans', Arial, sans-serif" font-weight="bold" font-size="25.60" fill="#000">4</text>
<text transform="translate(384.92,733.10) scale(0.9495,1)" font-family="'Liberation Sans', Arial, sans-serif" font-weight="bold" font-size="25.23" fill="#000">8</text>
<text transform="translate(447.10,733.10) scale(0.9511,1)" font-family="'Liberation Sans', Arial, sans-serif" font-weight="bold" font-size="25.23" fill="#000">16</text>
<rect x="235.40" y="740.4" width="46.50" height="53.2" fill="#B0B0B0" stroke="#FF8C1A" stroke-width="3"/>
<rect x="235.40" y="796.6" width="46.50" height="72.00" fill="#B0B0B0" stroke="#F0509C" stroke-width="3"/>
<line x1="234.90" y1="795.10" x2="282.40" y2="795.10" stroke="#FF5050" stroke-width="2"/>
<polygon points="258.65,800.00 268.85,810.20 258.65,820.40 248.45,810.20" fill="#808080"/>
<polygon points="258.65,801.40 267.45,810.20 258.65,819.00 249.85,810.20" fill="#D8D4C8"/>
<polygon points="258.65,804.40 264.45,810.20 258.65,816.00 252.85,810.20" fill="#8C8C8C"/>
<polygon points="258.65,805.60 263.25,810.20 258.65,814.80 254.05,810.20" fill="#0000FF"/>
<polygon points="258.65,827.90 268.85,838.10 258.65,848.30 248.45,838.10" fill="#808080"/>
<polygon points="258.65,829.30 267.45,838.10 258.65,846.90 249.85,838.10" fill="#D8D4C8"/>
<polygon points="258.65,832.30 264.45,838.10 258.65,843.90 252.85,838.10" fill="#8C8C8C"/>
<polygon points="258.65,833.50 263.25,838.10 258.65,842.70 254.05,838.10" fill="#0000FF"/>
<rect x="301.90" y="740.4" width="46.90" height="53.2" fill="#B0B0B0" stroke="#FF8C1A" stroke-width="3"/>
<rect x="301.90" y="796.6" width="46.90" height="126.40" fill="#B0B0B0" stroke="#F0509C" stroke-width="3"/>
<line x1="301.40" y1="795.10" x2="349.30" y2="795.10" stroke="#FF5050" stroke-width="2"/>
<polygon points="325.35,800.00 335.55,810.20 325.35,820.40 315.15,810.20" fill="#808080"/>
<polygon points="325.35,801.40 334.15,810.20 325.35,819.00 316.55,810.20" fill="#D8D4C8"/>
<polygon points="325.35,804.40 331.15,810.20 325.35,816.00 319.55,810.20" fill="#8C8C8C"/>
<polygon points="325.35,805.60 329.95,810.20 325.35,814.80 320.75,810.20" fill="#0000FF"/>
<polygon points="325.35,827.90 335.55,838.10 325.35,848.30 315.15,838.10" fill="#808080"/>
<polygon points="325.35,829.30 334.15,838.10 325.35,846.90 316.55,838.10" fill="#D8D4C8"/>
<polygon points="325.35,832.30 331.15,838.10 325.35,843.90 319.55,838.10" fill="#8C8C8C"/>
<polygon points="325.35,833.50 329.95,838.10 325.35,842.70 320.75,838.10" fill="#0000FF"/>
<polygon points="325.35,855.80 335.55,866.00 325.35,876.20 315.15,866.00" fill="#808080"/>
<polygon points="325.35,857.20 334.15,866.00 325.35,874.80 316.55,866.00" fill="#D8D4C8"/>
<polygon points="325.35,860.20 331.15,866.00 325.35,871.80 319.55,866.00" fill="#8C8C8C"/>
<polygon points="325.35,861.40 329.95,866.00 325.35,870.60 320.75,866.00" fill="#0000FF"/>
<polygon points="325.35,883.70 335.55,893.90 325.35,904.10 315.15,893.90" fill="#808080"/>
<polygon points="325.35,885.10 334.15,893.90 325.35,902.70 316.55,893.90" fill="#D8D4C8"/>
<polygon points="325.35,888.10 331.15,893.90 325.35,899.70 319.55,893.90" fill="#8C8C8C"/>
<polygon points="325.35,889.30 329.95,893.90 325.35,898.50 320.75,893.90" fill="#0000FF"/>
<rect x="370.10" y="740.4" width="46.60" height="53.2" fill="#B0B0B0" stroke="#FF8C1A" stroke-width="3"/>
<rect x="370.10" y="796.6" width="46.60" height="238.40" fill="#B0B0B0" stroke="#F0509C" stroke-width="3"/>
<line x1="369.60" y1="795.10" x2="417.20" y2="795.10" stroke="#FF5050" stroke-width="2"/>
<polygon points="393.40,800.00 403.60,810.20 393.40,820.40 383.20,810.20" fill="#808080"/>
<polygon points="393.40,801.40 402.20,810.20 393.40,819.00 384.60,810.20" fill="#D8D4C8"/>
<polygon points="393.40,804.40 399.20,810.20 393.40,816.00 387.60,810.20" fill="#8C8C8C"/>
<polygon points="393.40,805.60 398.00,810.20 393.40,814.80 388.80,810.20" fill="#0000FF"/>
<polygon points="393.40,827.90 403.60,838.10 393.40,848.30 383.20,838.10" fill="#808080"/>
<polygon points="393.40,829.30 402.20,838.10 393.40,846.90 384.60,838.10" fill="#D8D4C8"/>
<polygon points="393.40,832.30 399.20,838.10 393.40,843.90 387.60,838.10" fill="#8C8C8C"/>
<polygon points="393.40,833.50 398.00,838.10 393.40,842.70 388.80,838.10" fill="#0000FF"/>
<polygon points="393.40,855.80 403.60,866.00 393.40,876.20 383.20,866.00" fill="#808080"/>
<polygon points="393.40,857.20 402.20,866.00 393.40,874.80 384.60,866.00" fill="#D8D4C8"/>
<polygon points="393.40,860.20 399.20,866.00 393.40,871.80 387.60,866.00" fill="#8C8C8C"/>
<polygon points="393.40,861.40 398.00,866.00 393.40,870.60 388.80,866.00" fill="#0000FF"/>
<polygon points="393.40,883.70 403.60,893.90 393.40,904.10 383.20,893.90" fill="#808080"/>
<polygon points="393.40,885.10 402.20,893.90 393.40,902.70 384.60,893.90" fill="#D8D4C8"/>
<polygon points="393.40,888.10 399.20,893.90 393.40,899.70 387.60,893.90" fill="#8C8C8C"/>
<polygon points="393.40,889.30 398.00,893.90 393.40,898.50 388.80,893.90" fill="#0000FF"/>
<polygon points="393.40,911.60 403.60,921.80 393.40,932.00 383.20,921.80" fill="#808080"/>
<polygon points="393.40,913.00 402.20,921.80 393.40,930.60 384.60,921.80" fill="#D8D4C8"/>
<polygon points="393.40,916.00 399.20,921.80 393.40,927.60 387.60,921.80" fill="#8C8C8C"/>
<polygon points="393.40,917.20 398.00,921.80 393.40,926.40 388.80,921.80" fill="#0000FF"/>
<polygon points="393.40,939.50 403.60,949.70 393.40,959.90 383.20,949.70" fill="#808080"/>
<polygon points="393.40,940.90 402.20,949.70 393.40,958.50 384.60,949.70" fill="#D8D4C8"/>
<polygon points="393.40,943.90 399.20,949.70 393.40,955.50 387.60,949.70" fill="#8C8C8C"/>
<polygon points="393.40,945.10 398.00,949.70 393.40,954.30 388.80,949.70" fill="#0000FF"/>
<polygon points="393.40,967.40 403.60,977.60 393.40,987.80 383.20,977.60" fill="#808080"/>
<polygon points="393.40,968.80 402.20,977.60 393.40,986.40 384.60,977.60" fill="#D8D4C8"/>
<polygon points="393.40,971.80 399.20,977.60 393.40,983.40 387.60,977.60" fill="#8C8C8C"/>
<polygon points="393.40,973.00 398.00,977.60 393.40,982.20 388.80,977.60" fill="#0000FF"/>
<polygon points="393.40,995.30 403.60,1005.50 393.40,1015.70 383.20,1005.50" fill="#808080"/>
<polygon points="393.40,996.70 402.20,1005.50 393.40,1014.30 384.60,1005.50" fill="#D8D4C8"/>
<polygon points="393.40,999.70 399.20,1005.50 393.40,1011.30 387.60,1005.50" fill="#8C8C8C"/>
<polygon points="393.40,1000.90 398.00,1005.50 393.40,1010.10 388.80,1005.50" fill="#0000FF"/>
<rect x="439.50" y="740.4" width="46.30" height="53.2" fill="#B0B0B0" stroke="#FF8C1A" stroke-width="3"/>
<rect x="439.50" y="796.6" width="46.30" height="462.80" fill="#B0B0B0" stroke="#F0509C" stroke-width="3"/>
<line x1="439.00" y1="795.10" x2="486.30" y2="795.10" stroke="#FF5050" stroke-width="2"/>
<polygon points="462.65,800.00 472.85,810.20 462.65,820.40 452.45,810.20" fill="#808080"/>
<polygon points="462.65,801.40 471.45,810.20 462.65,819.00 453.85,810.20" fill="#D8D4C8"/>
<polygon points="462.65,804.40 468.45,810.20 462.65,816.00 456.85,810.20" fill="#8C8C8C"/>
<polygon points="462.65,805.60 467.25,810.20 462.65,814.80 458.05,810.20" fill="#0000FF"/>
<polygon points="462.65,827.90 472.85,838.10 462.65,848.30 452.45,838.10" fill="#808080"/>
<polygon points="462.65,829.30 471.45,838.10 462.65,846.90 453.85,838.10" fill="#D8D4C8"/>
<polygon points="462.65,832.30 468.45,838.10 462.65,843.90 456.85,838.10" fill="#8C8C8C"/>
<polygon points="462.65,833.50 467.25,838.10 462.65,842.70 458.05,838.10" fill="#0000FF"/>
<polygon points="462.65,855.80 472.85,866.00 462.65,876.20 452.45,866.00" fill="#808080"/>
<polygon points="462.65,857.20 471.45,866.00 462.65,874.80 453.85,866.00" fill="#D8D4C8"/>
<polygon points="462.65,860.20 468.45,866.00 462.65,871.80 456.85,866.00" fill="#8C8C8C"/>
<polygon points="462.65,861.40 467.25,866.00 462.65,870.60 458.05,866.00" fill="#0000FF"/>
<polygon points="462.65,883.70 472.85,893.90 462.65,904.10 452.45,893.90" fill="#808080"/>
<polygon points="462.65,885.10 471.45,893.90 462.65,902.70 453.85,893.90" fill="#D8D4C8"/>
<polygon points="462.65,888.10 468.45,893.90 462.65,899.70 456.85,893.90" fill="#8C8C8C"/>
<polygon points="462.65,889.30 467.25,893.90 462.65,898.50 458.05,893.90" fill="#0000FF"/>
<polygon points="462.65,911.60 472.85,921.80 462.65,932.00 452.45,921.80" fill="#808080"/>
<polygon points="462.65,913.00 471.45,921.80 462.65,930.60 453.85,921.80" fill="#D8D4C8"/>
<polygon points="462.65,916.00 468.45,921.80 462.65,927.60 456.85,921.80" fill="#8C8C8C"/>
<polygon points="462.65,917.20 467.25,921.80 462.65,926.40 458.05,921.80" fill="#0000FF"/>
<polygon points="462.65,939.50 472.85,949.70 462.65,959.90 452.45,949.70" fill="#808080"/>
<polygon points="462.65,940.90 471.45,949.70 462.65,958.50 453.85,949.70" fill="#D8D4C8"/>
<polygon points="462.65,943.90 468.45,949.70 462.65,955.50 456.85,949.70" fill="#8C8C8C"/>
<polygon points="462.65,945.10 467.25,949.70 462.65,954.30 458.05,949.70" fill="#0000FF"/>
<polygon points="462.65,967.40 472.85,977.60 462.65,987.80 452.45,977.60" fill="#808080"/>
<polygon points="462.65,968.80 471.45,977.60 462.65,986.40 453.85,977.60" fill="#D8D4C8"/>
<polygon points="462.65,971.80 468.45,977.60 462.65,983.40 456.85,977.60" fill="#8C8C8C"/>
<polygon points="462.65,973.00 467.25,977.60 462.65,982.20 458.05,977.60" fill="#0000FF"/>
<polygon points="462.65,995.30 472.85,1005.50 462.65,1015.70 452.45,1005.50" fill="#808080"/>
<polygon points="462.65,996.70 471.45,1005.50 462.65,1014.30 453.85,1005.50" fill="#D8D4C8"/>
<polygon points="462.65,999.70 468.45,1005.50 462.65,1011.30 456.85,1005.50" fill="#8C8C8C"/>
<polygon points="462.65,1000.90 467.25,1005.50 462.65,1010.10 458.05,1005.50" fill="#0000FF"/>
<polygon points="462.65,1023.20 472.85,1033.40 462.65,1043.60 452.45,1033.40" fill="#808080"/>
<polygon points="462.65,1024.60 471.45,1033.40 462.65,1042.20 453.85,1033.40" fill="#D8D4C8"/>
<polygon points="462.65,1027.60 468.45,1033.40 462.65,1039.20 456.85,1033.40" fill="#8C8C8C"/>
<polygon points="462.65,1028.80 467.25,1033.40 462.65,1038.00 458.05,1033.40" fill="#0000FF"/>
<polygon points="462.65,1051.10 472.85,1061.30 462.65,1071.50 452.45,1061.30" fill="#808080"/>
<polygon points="462.65,1052.50 471.45,1061.30 462.65,1070.10 453.85,1061.30" fill="#D8D4C8"/>
<polygon points="462.65,1055.50 468.45,1061.30 462.65,1067.10 456.85,1061.30" fill="#8C8C8C"/>
<polygon points="462.65,1056.70 467.25,1061.30 462.65,1065.90 458.05,1061.30" fill="#0000FF"/>
<polygon points="462.65,1079.00 472.85,1089.20 462.65,1099.40 452.45,1089.20" fill="#808080"/>
<polygon points="462.65,1080.40 471.45,1089.20 462.65,1098.00 453.85,1089.20" fill="#D8D4C8"/>
<polygon points="462.65,1083.40 468.45,1089.20 462.65,1095.00 456.85,1089.20" fill="#8C8C8C"/>
<polygon points="462.65,1084.60 467.25,1089.20 462.65,1093.80 458.05,1089.20" fill="#0000FF"/>
<polygon points="462.65,1106.90 472.85,1117.10 462.65,1127.30 452.45,1117.10" fill="#808080"/>
<polygon points="462.65,1108.30 471.45,1117.10 462.65,1125.90 453.85,1117.10" fill="#D8D4C8"/>
<polygon points="462.65,1111.30 468.45,1117.10 462.65,1122.90 456.85,1117.10" fill="#8C8C8C"/>
<polygon points="462.65,1112.50 467.25,1117.10 462.65,1121.70 458.05,1117.10" fill="#0000FF"/>
<polygon points="462.65,1134.80 472.85,1145.00 462.65,1155.20 452.45,1145.00" fill="#808080"/>
<polygon points="462.65,1136.20 471.45,1145.00 462.65,1153.80 453.85,1145.00" fill="#D8D4C8"/>
<polygon points="462.65,1139.20 468.45,1145.00 462.65,1150.80 456.85,1145.00" fill="#8C8C8C"/>
<polygon points="462.65,1140.40 467.25,1145.00 462.65,1149.60 458.05,1145.00" fill="#0000FF"/>
<polygon points="462.65,1162.70 472.85,1172.90 462.65,1183.10 452.45,1172.90" fill="#808080"/>
<polygon points="462.65,1164.10 471.45,1172.90 462.65,1181.70 453.85,1172.90" fill="#D8D4C8"/>
<polygon points="462.65,1167.10 468.45,1172.90 462.65,1178.70 456.85,1172.90" fill="#8C8C8C"/>
<polygon points="462.65,1168.30 467.25,1172.90 462.65,1177.50 458.05,1172.90" fill="#0000FF"/>
<polygon points="462.65,1190.60 472.85,1200.80 462.65,1211.00 452.45,1200.80" fill="#808080"/>
<polygon points="462.65,1192.00 471.45,1200.80 462.65,1209.60 453.85,1200.80" fill="#D8D4C8"/>
<polygon points="462.65,1195.00 468.45,1200.80 462.65,1206.60 456.85,1200.80" fill="#8C8C8C"/>
<polygon points="462.65,1196.20 467.25,1200.80 462.65,1205.40 458.05,1200.80" fill="#0000FF"/>
<polygon points="462.65,1218.50 472.85,1228.70 462.65,1238.90 452.45,1228.70" fill="#808080"/>
<polygon points="462.65,1219.90 471.45,1228.70 462.65,1237.50 453.85,1228.70" fill="#D8D4C8"/>
<polygon points="462.65,1222.90 468.45,1228.70 462.65,1234.50 456.85,1228.70" fill="#8C8C8C"/>
<polygon points="462.65,1224.10 467.25,1228.70 462.65,1233.30 458.05,1228.70" fill="#0000FF"/>
<line x1="241.00" y1="746.10" x2="241.00" y2="787.60" stroke="#000" stroke-width="2.2"/>
<polygon points="241.00,792.40 238.00,786.40 244.00,786.40" fill="#000"/>
<polygon points="241.00,741.30 244.00,747.30 238.00,747.30" fill="#000"/>
<line x1="248.50" y1="815.00" x2="248.50" y2="832.70" stroke="#000" stroke-width="2.2"/>
<polygon points="248.50,837.50 245.50,831.50 251.50,831.50" fill="#000"/>
<polygon points="248.50,810.20 251.50,816.20 245.50,816.20" fill="#000"/>
<text transform="translate(79.46,759.20) scale(0.8848,1)" font-family="'Liberation Sans', Arial, sans-serif" font-weight="bold" font-size="27.17" fill="#FF8000">shared C</text>
<text transform="translate(181.40,766.10) scale(0.9083,1)" font-family="'Liberation Sans', Arial, sans-serif" font-weight="bold" font-size="18.70" fill="#FF8000">par</text>
<text transform="translate(62.45,789.60) scale(1.0270,1)" font-family="'Liberation Sans', Arial, sans-serif" font-weight="bold" font-size="20.97" fill="#000">2 x Vertical pitch</text>
<text transform="translate(100.44,827.60) scale(1.0573,1)" font-family="'Liberation Sans', Arial, sans-serif" font-weight="bold" font-size="20.14" fill="#000">Vertical pitch</text>
<text transform="translate(87.95,980.00) scale(1.1181,1)" font-family="'Liberation Sans', Arial, sans-serif" font-weight="bold" font-size="25.81" fill="#FF3399">C</text>
<text transform="translate(107.81,984.50) scale(0.8581,1)" font-family="'Liberation Sans', Arial, sans-serif" font-weight="bold" font-size="21.30" fill="#FF3399">par</text>
<text transform="translate(143.10,980.50) scale(1.1438,1)" font-family="'Liberation Sans', Arial, sans-serif" font-weight="bold" font-size="25.52" fill="#FF3399">proportional</text>
<text transform="translate(88.74,1014.30) scale(1.1114,1)" font-family="'Liberation Sans', Arial, sans-serif" font-weight="bold" font-size="25.66" fill="#FF3399">to floor#</text>
<line x1="198.60" y1="952.90" x2="255.91" y2="881.18" stroke="#FF3399" stroke-width="2.6"/>
<polygon points="261.40,874.30 258.44,886.01 250.63,879.77" fill="#FF3399"/>
<line x1="215.70" y1="954.30" x2="288.89" y2="923.42" stroke="#FF3399" stroke-width="2.6"/>
<polygon points="297.00,920.00 288.81,928.88 284.92,919.67" fill="#FF3399"/>
<line x1="227.10" y1="1004.90" x2="356.93" y2="1016.33" stroke="#FF3399" stroke-width="2.6"/>
<polygon points="365.70,1017.10 354.30,1021.12 355.18,1011.15" fill="#FF3399"/>
<line x1="215.70" y1="1018.00" x2="421.92" y2="1107.11" stroke="#FF3399" stroke-width="2.6"/>
<polygon points="430.00,1110.60 417.92,1110.83 421.89,1101.65" fill="#FF3399"/>
<line x1="498.40" y1="804.30" x2="498.40" y2="1250.80" stroke="#222" stroke-width="2.6"/>
<polygon points="498.40,1258.00 494.90,1249.00 501.90,1249.00" fill="#222"/>
<polygon points="498.40,797.10 501.90,806.10 494.90,806.10" fill="#222"/>
<text transform="translate(510.30,928.25) rotate(90) scale(1.0422,1)" font-family="'Liberation Sans', Arial, sans-serif" font-weight="normal" font-size="33.52" fill="#000" stroke="#000" stroke-width="0.9">Channel height</text>
<text transform="translate(539.94,716.16) scale(0.9456,1)" font-family="'Liberation Sans', Arial, sans-serif" font-weight="bold" font-size="43.84" fill="#000">e</text>
<rect x="645.9" y="733.75" width="351.05" height="416.5" fill="none" stroke="#000" stroke-width="4.2"/>
<line x1="648.00" y1="1039.40" x2="654.50" y2="1039.40" stroke="#000" stroke-width="3.2"/>
<line x1="648.00" y1="916.90" x2="654.50" y2="916.90" stroke="#000" stroke-width="3.2"/>
<line x1="648.00" y1="794.40" x2="654.50" y2="794.40" stroke="#000" stroke-width="3.2"/>
<line x1="648.00" y1="1100.65" x2="650.50" y2="1100.65" stroke="#000" stroke-width="3.2"/>
<line x1="648.00" y1="978.15" x2="650.50" y2="978.15" stroke="#000" stroke-width="3.2"/>
<line x1="648.00" y1="855.65" x2="650.50" y2="855.65" stroke="#000" stroke-width="3.2"/>
<line x1="667.10" y1="1148.00" x2="667.10" y2="1140.00" stroke="#000" stroke-width="3.2"/>
<line x1="711.22" y1="1148.00" x2="711.22" y2="1140.00" stroke="#000" stroke-width="3.2"/>
<line x1="755.34" y1="1148.00" x2="755.34" y2="1140.00" stroke="#000" stroke-width="3.2"/>
<line x1="799.46" y1="1148.00" x2="799.46" y2="1140.00" stroke="#000" stroke-width="3.2"/>
<line x1="843.58" y1="1148.00" x2="843.58" y2="1140.00" stroke="#000" stroke-width="3.2"/>
<line x1="887.70" y1="1148.00" x2="887.70" y2="1140.00" stroke="#000" stroke-width="3.2"/>
<line x1="931.82" y1="1148.00" x2="931.82" y2="1140.00" stroke="#000" stroke-width="3.2"/>
<line x1="975.94" y1="1148.00" x2="975.94" y2="1140.00" stroke="#000" stroke-width="3.2"/>
<text transform="translate(584.79,804.80) scale(1.0673,1)" font-family="'Liberation Sans', Arial, sans-serif" font-weight="bold" font-size="35.27" fill="#000">0.3</text>
<text transform="translate(584.78,926.30) scale(1.0802,1)" font-family="'Liberation Sans', Arial, sans-serif" font-weight="bold" font-size="35.13" fill="#000">0.2</text>
<text transform="translate(584.92,1050.10) scale(0.9960,1)" font-family="'Liberation Sans', Arial, sans-serif" font-weight="bold" font-size="34.70" fill="#000">0.1</text>
<text transform="translate(654.01,1185.20) scale(1.0293,1)" font-family="'Liberation Sans', Arial, sans-serif" font-weight="bold" font-size="35.84" fill="#000">2</text>
<text transform="translate(699.98,1185.20) scale(0.9509,1)" font-family="'Liberation Sans', Arial, sans-serif" font-weight="bold" font-size="36.36" fill="#000">4</text>
<text transform="translate(786.45,1185.20) scale(0.9914,1)" font-family="'Liberation Sans', Arial, sans-serif" font-weight="bold" font-size="35.84" fill="#000">8</text>
<text transform="translate(953.45,1185.20) scale(1.0471,1)" font-family="'Liberation Sans', Arial, sans-serif" font-weight="bold" font-size="35.84" fill="#000">16</text>
<text transform="translate(747.99,1226.80) scale(1.0252,1)" font-family="'Liberation Sans', Arial, sans-serif" font-weight="bold" font-size="46.40" fill="#000">Floor#</text>
<text transform="translate(574.30,1074.33) rotate(-90) scale(0.9085,1)" font-family="'Liberation Sans', Arial, sans-serif" font-weight="bold" font-size="47.56" fill="#000">C per floor (fF)</text>
<circle cx="826.2" cy="1169" r="1.3" fill="#333"/>
<line x1="672.99" y1="782.23" x2="705.33" y2="845.90" stroke="#007F00" stroke-width="3"/>
<line x1="722.65" y1="863.69" x2="788.03" y2="899.18" stroke="#007F00" stroke-width="3"/>
<line x1="812.36" y1="907.01" x2="963.04" y2="925.94" stroke="#007F00" stroke-width="3"/>
<line x1="672.32" y1="850.09" x2="706.00" y2="916.21" stroke="#FF7F00" stroke-width="2.6"/>
<line x1="721.40" y1="931.80" x2="789.28" y2="967.42" stroke="#FF7F00" stroke-width="2.6"/>
<line x1="810.88" y1="974.10" x2="964.52" y2="992.12" stroke="#FF7F00" stroke-width="2.6"/>
<line x1="676.10" y1="1098.50" x2="702.22" y2="1098.50" stroke="#0000FF" stroke-width="2.6"/>
<line x1="720.22" y1="1098.50" x2="790.46" y2="1098.50" stroke="#0000FF" stroke-width="2.6"/>
<polyline points="808.46,1098.50 927.70,1098.50 932.00,1101.30 966.94,1101.30" fill="none" stroke="#0000FF" stroke-width="2.6"/>
<polygon points="667.10,761.13 677.10,779.13 657.10,779.13" fill="#fff" stroke="#007F00" stroke-width="3" stroke-linejoin="miter"/>
<polygon points="711.22,847.99 721.22,865.99 701.22,865.99" fill="#fff" stroke="#007F00" stroke-width="3" stroke-linejoin="miter"/>
<polygon points="799.46,895.88 809.46,913.88 789.46,913.88" fill="#fff" stroke="#007F00" stroke-width="3" stroke-linejoin="miter"/>
<polygon points="975.94,918.06 985.94,936.06 965.94,936.06" fill="#fff" stroke="#007F00" stroke-width="3" stroke-linejoin="miter"/>
<circle cx="667.10" cy="839.85" r="7.8" fill="#fff" stroke="#FF7F00" stroke-width="3"/>
<circle cx="711.22" cy="926.45" r="7.8" fill="#fff" stroke="#FF7F00" stroke-width="3"/>
<circle cx="799.46" cy="972.76" r="7.8" fill="#fff" stroke="#FF7F00" stroke-width="3"/>
<circle cx="975.94" cy="993.46" r="7.8" fill="#fff" stroke="#FF7F00" stroke-width="3"/>
<rect x="661.35" y="1092.75" width="11.5" height="11.5" fill="#fff" stroke="#0000FF" stroke-width="3"/>
<rect x="705.47" y="1092.75" width="11.5" height="11.5" fill="#fff" stroke="#0000FF" stroke-width="3"/>
<rect x="793.71" y="1092.75" width="11.5" height="11.5" fill="#fff" stroke="#0000FF" stroke-width="3"/>
<rect x="970.19" y="1095.55" width="11.5" height="11.5" fill="#fff" stroke="#0000FF" stroke-width="3"/>
<line x1="734.40" y1="759.80" x2="752.50" y2="759.80" stroke="#007F00" stroke-width="3"/>
<line x1="780.00" y1="759.80" x2="797.30" y2="759.80" stroke="#007F00" stroke-width="3"/>
<polygon points="766.10,749.00 776.10,767.00 756.10,767.00" fill="#fff" stroke="#007F00" stroke-width="3" stroke-linejoin="miter"/>
<line x1="736.80" y1="797.90" x2="758.00" y2="797.90" stroke="#FF7F00" stroke-width="2.6"/>
<line x1="780.00" y1="797.90" x2="801.20" y2="797.90" stroke="#FF7F00" stroke-width="2.6"/>
<circle cx="769.00" cy="797.90" r="7.8" fill="#fff" stroke="#FF7F00" stroke-width="3"/>
<line x1="736.80" y1="837.90" x2="757.50" y2="837.90" stroke="#0000FF" stroke-width="3"/>
<line x1="781.00" y1="837.90" x2="801.20" y2="837.90" stroke="#0000FF" stroke-width="3"/>
<rect x="762.45" y="831.65" width="13.5" height="13.5" fill="#fff" stroke="#0000FF" stroke-width="3"/>
<text transform="translate(804.82,768.30) scale(1.0336,1)" font-family="'Liberation Sans', Arial, sans-serif" font-weight="normal" font-size="36.42" fill="#007F00" stroke="#007F00" stroke-width="1.1">C</text>
<text transform="translate(834.11,779.48) scale(1.1196,1)" font-family="'Liberation Sans', Arial, sans-serif" font-weight="bold" font-size="19.87" fill="#007F00">gg</text>
<text transform="translate(807.25,805.70) scale(0.9966,1)" font-family="'Liberation Sans', Arial, sans-serif" font-weight="normal" font-size="37.13" fill="#FF7F00" stroke="#FF7F00" stroke-width="1.1">C</text>
<text transform="translate(835.24,816.20)" font-family="'Liberation Sans', Arial, sans-serif" font-weight="bold" font-size="20.93" fill="#FF7F00" letter-spacing="2.59">par</text>
<text transform="translate(808.11,846.90) scale(0.9778,1)" font-family="'Liberation Sans', Arial, sans-serif" font-weight="normal" font-size="36.56" fill="#0000FF" stroke="#0000FF" stroke-width="1.1">C</text>
<text transform="translate(836.58,856.00)" font-family="'Liberation Sans', Arial, sans-serif" font-weight="bold" font-size="20.47" fill="#0000FF" letter-spacing="3.83">ox</text>
<polygon points="887.30,789.20 932.70,752.50 978.10,789.20 932.70,825.90" fill="#6CCC3C" stroke="#6CCC3C" stroke-width="19.0" stroke-linejoin="round"/>
<line x1="932.70" y1="753.00" x2="932.70" y2="826.00" stroke="#7030A0" stroke-width="2.6"/>
<polygon points="932.70,834.00 928.20,824.00 937.20,824.00" fill="#7030A0"/>
<polygon points="932.70,745.00 937.20,755.00 928.20,755.00" fill="#7030A0"/>
<line x1="887.30" y1="790.00" x2="978.40" y2="790.00" stroke="#FF0000" stroke-width="3.6"/>
<polygon points="987.20,790.00 976.20,795.50 976.20,784.50" fill="#FF0000"/>
<polygon points="878.50,790.00 889.50,784.50 889.50,795.50" fill="#FF0000"/>
<text transform="translate(872.70,861.50) scale(1.0192,1)" font-family="'Liberation Sans', Arial, sans-serif" font-weight="bold" font-size="20.51" fill="#FF0000">W</text>
<text transform="translate(892.51,867.00) scale(1.0483,1)" font-family="'Liberation Sans', Arial, sans-serif" font-weight="bold" font-size="14.05" fill="#FF0000">CH</text>
<text transform="translate(918.08,861.50) scale(1.0730,1)" font-family="'Liberation Sans', Arial, sans-serif" font-weight="bold" font-size="20.22" fill="#FF0000">= 16nm</text>
<text transform="translate(876.66,882.70) scale(1.1121,1)" font-family="'Liberation Sans', Arial, sans-serif" font-weight="bold" font-size="20.51" fill="#7030A0">H</text>
<text transform="translate(892.51,888.20) scale(1.0483,1)" font-family="'Liberation Sans', Arial, sans-serif" font-weight="bold" font-size="14.05" fill="#7030A0">CH</text>
<text transform="translate(918.08,882.70) scale(1.0730,1)" font-family="'Liberation Sans', Arial, sans-serif" font-weight="bold" font-size="20.22" fill="#7030A0">= 13nm</text>
<text transform="translate(663.73,1014.00) scale(0.9624,1)" font-family="'Liberation Sans', Arial, sans-serif" font-weight="bold" font-size="36.95" fill="#000">V</text>
<text transform="translate(686.83,1022.70) scale(1.0029,1)" font-family="'Liberation Sans', Arial, sans-serif" font-weight="normal" font-size="21.38" fill="#000" stroke="#000" stroke-width="0.7">DD</text>
<text transform="translate(728.05,1009.49) scale(1.2461,1)" font-family="'Liberation Sans', Arial, sans-serif" font-weight="bold" font-size="27.28" fill="#000">=</text>
<text transform="translate(758.54,1014.00) scale(1.0028,1)" font-family="'Liberation Sans', Arial, sans-serif" font-weight="bold" font-size="36.42" fill="#000">0.5V</text>
<text transform="translate(665.74,1064.30) scale(0.9344,1)" font-family="'Liberation Sans', Arial, sans-serif" font-weight="bold" font-size="36.27" fill="#000">C</text>
<text transform="translate(691.37,1074.72) scale(1.3703,1)" font-family="'Liberation Sans', Arial, sans-serif" font-weight="normal" font-size="17.72" fill="#000" stroke="#000" stroke-width="0.7">gg</text>
<text transform="translate(728.05,1059.99) scale(1.2461,1)" font-family="'Liberation Sans', Arial, sans-serif" font-weight="bold" font-size="27.28" fill="#000">=</text>
<text transform="translate(758.60,1064.30) scale(0.9639,1)" font-family="'Liberation Sans', Arial, sans-serif" font-weight="bold" font-size="36.27" fill="#000">C</text>
<text transform="translate(785.06,1074.20) scale(1.3258,1)" font-family="'Liberation Sans', Arial, sans-serif" font-weight="normal" font-size="16.74" fill="#000" stroke="#000" stroke-width="0.7">ox</text>
<text transform="translate(820.83,1062.26) scale(1.1648,1)" font-family="'Liberation Sans', Arial, sans-serif" font-weight="bold" font-size="31.76" fill="#000">+</text>
<text transform="translate(852.29,1064.30) scale(0.9049,1)" font-family="'Liberation Sans', Arial, sans-serif" font-weight="bold" font-size="36.27" fill="#000">C</text>
<text transform="translate(876.48,1074.72) scale(1.4100,1)" font-family="'Liberation Sans', Arial, sans-serif" font-weight="normal" font-size="17.72" fill="#000" stroke="#000" stroke-width="0.7">par</text>
<text transform="translate(1002.21,716.50) scale(1.1146,1)" font-family="'Liberation Sans', Arial, sans-serif" font-weight="bold" font-size="40.69" fill="#000">f</text>
<line x1="1112.00" y1="716.50" x2="1580.00" y2="716.50" stroke="#000" stroke-width="4"/>
<line x1="1112.00" y1="1146.60" x2="1580.00" y2="1146.60" stroke="#000" stroke-width="4"/>
<line x1="1146.40" y1="1145.00" x2="1146.40" y2="1138.70" stroke="#000" stroke-width="3.5"/>
<line x1="1205.22" y1="1145.00" x2="1205.22" y2="1138.70" stroke="#000" stroke-width="3.5"/>
<line x1="1264.04" y1="1145.00" x2="1264.04" y2="1138.70" stroke="#000" stroke-width="3.5"/>
<line x1="1322.86" y1="1145.00" x2="1322.86" y2="1138.70" stroke="#000" stroke-width="3.5"/>
<line x1="1381.68" y1="1145.00" x2="1381.68" y2="1138.70" stroke="#000" stroke-width="3.5"/>
<line x1="1440.50" y1="1145.00" x2="1440.50" y2="1138.70" stroke="#000" stroke-width="3.5"/>
<line x1="1499.32" y1="1145.00" x2="1499.32" y2="1138.70" stroke="#000" stroke-width="3.5"/>
<line x1="1558.14" y1="1145.00" x2="1558.14" y2="1138.70" stroke="#000" stroke-width="3.5"/>
<line x1="1111.90" y1="714.50" x2="1111.90" y2="1148.60" stroke="#007F00" stroke-width="4.2"/>
<line x1="1110.00" y1="716.50" x2="1119.60" y2="716.50" stroke="#007F00" stroke-width="4"/>
<line x1="1112.00" y1="1101.50" x2="1120.60" y2="1101.50" stroke="#007F00" stroke-width="3.5"/>
<line x1="1112.00" y1="1024.50" x2="1120.60" y2="1024.50" stroke="#007F00" stroke-width="3.5"/>
<line x1="1112.00" y1="947.50" x2="1120.60" y2="947.50" stroke="#007F00" stroke-width="3.5"/>
<line x1="1112.00" y1="870.50" x2="1120.60" y2="870.50" stroke="#007F00" stroke-width="3.5"/>
<line x1="1112.00" y1="793.50" x2="1120.60" y2="793.50" stroke="#007F00" stroke-width="3.5"/>
<line x1="1112.00" y1="1140.00" x2="1116.50" y2="1140.00" stroke="#007F00" stroke-width="3"/>
<line x1="1112.00" y1="1063.00" x2="1116.50" y2="1063.00" stroke="#007F00" stroke-width="3"/>
<line x1="1112.00" y1="986.00" x2="1116.50" y2="986.00" stroke="#007F00" stroke-width="3"/>
<line x1="1112.00" y1="909.00" x2="1116.50" y2="909.00" stroke="#007F00" stroke-width="3"/>
<line x1="1112.00" y1="832.00" x2="1116.50" y2="832.00" stroke="#007F00" stroke-width="3"/>
<line x1="1112.00" y1="755.00" x2="1116.50" y2="755.00" stroke="#007F00" stroke-width="3"/>
<line x1="1585.60" y1="714.60" x2="1585.60" y2="1148.60" stroke="#FF0000" stroke-width="4.2"/>
<line x1="1578.00" y1="716.50" x2="1587.00" y2="716.50" stroke="#FF0000" stroke-width="4"/>
<line x1="1577.60" y1="1146.60" x2="1587.00" y2="1146.60" stroke="#FF0000" stroke-width="4"/>
<line x1="1585.00" y1="1074.90" x2="1577.20" y2="1074.90" stroke="#FF0000" stroke-width="3.5"/>
<line x1="1585.00" y1="1003.20" x2="1577.20" y2="1003.20" stroke="#FF0000" stroke-width="3.5"/>
<line x1="1585.00" y1="931.50" x2="1577.20" y2="931.50" stroke="#FF0000" stroke-width="3.5"/>
<line x1="1585.00" y1="859.80" x2="1577.20" y2="859.80" stroke="#FF0000" stroke-width="3.5"/>
<line x1="1585.00" y1="788.10" x2="1577.20" y2="788.10" stroke="#FF0000" stroke-width="3.5"/>
<line x1="1585.00" y1="1110.75" x2="1581.50" y2="1110.75" stroke="#FF0000" stroke-width="3"/>
<line x1="1585.00" y1="1039.05" x2="1581.50" y2="1039.05" stroke="#FF0000" stroke-width="3"/>
<line x1="1585.00" y1="967.35" x2="1581.50" y2="967.35" stroke="#FF0000" stroke-width="3"/>
<line x1="1585.00" y1="895.65" x2="1581.50" y2="895.65" stroke="#FF0000" stroke-width="3"/>
<line x1="1585.00" y1="823.95" x2="1581.50" y2="823.95" stroke="#FF0000" stroke-width="3"/>
<line x1="1585.00" y1="752.25" x2="1581.50" y2="752.25" stroke="#FF0000" stroke-width="3"/>
<text transform="translate(1084.37,1110.80) scale(0.8385,1)" font-family="'Liberation Sans', Arial, sans-serif" font-weight="bold" font-size="34.33" fill="#007F00">4</text>
<text transform="translate(1083.87,1033.80) scale(0.9018,1)" font-family="'Liberation Sans', Arial, sans-serif" font-weight="bold" font-size="34.33" fill="#007F00">5</text>
<text transform="translate(1083.60,956.80) scale(0.9433,1)" font-family="'Liberation Sans', Arial, sans-serif" font-weight="bold" font-size="33.84" fill="#007F00">6</text>
<text transform="translate(1083.41,879.80) scale(0.9545,1)" font-family="'Liberation Sans', Arial, sans-serif" font-weight="bold" font-size="34.33" fill="#007F00">7</text>
<text transform="translate(1083.78,802.80) scale(0.9242,1)" font-family="'Liberation Sans', Arial, sans-serif" font-weight="bold" font-size="33.84" fill="#007F00">8</text>
<text transform="translate(1083.69,725.80) scale(0.9385,1)" font-family="'Liberation Sans', Arial, sans-serif" font-weight="bold" font-size="33.84" fill="#007F00">9</text>
<text transform="translate(1594.87,1159.50) scale(1.0359,1)" font-family="'Liberation Sans', Arial, sans-serif" font-weight="bold" font-size="36.99" fill="#FF0000">0</text>
<text transform="translate(1595.30,1087.80) scale(0.9748,1)" font-family="'Liberation Sans', Arial, sans-serif" font-weight="bold" font-size="37.53" fill="#FF0000">5</text>
<text transform="translate(1594.04,1016.10) scale(1.0224,1)" font-family="'Liberation Sans', Arial, sans-serif" font-weight="bold" font-size="36.99" fill="#FF0000">10</text>
<text transform="translate(1594.07,944.40) scale(0.9954,1)" font-family="'Liberation Sans', Arial, sans-serif" font-weight="bold" font-size="37.53" fill="#FF0000">15</text>
<text transform="translate(1595.11,872.70) scale(0.9952,1)" font-family="'Liberation Sans', Arial, sans-serif" font-weight="bold" font-size="36.99" fill="#FF0000">20</text>
<text transform="translate(1595.13,801.00) scale(0.9833,1)" font-family="'Liberation Sans', Arial, sans-serif" font-weight="bold" font-size="36.99" fill="#FF0000">25</text>
<text transform="translate(1595.58,729.30) scale(0.9833,1)" font-family="'Liberation Sans', Arial, sans-serif" font-weight="bold" font-size="36.99" fill="#FF0000">30</text>
<text transform="translate(1133.04,1184.70) scale(1.0225,1)" font-family="'Liberation Sans', Arial, sans-serif" font-weight="bold" font-size="35.27" fill="#000">2</text>
<text transform="translate(1191.78,1184.70) scale(0.9716,1)" font-family="'Liberation Sans', Arial, sans-serif" font-weight="bold" font-size="35.78" fill="#000">4</text>
<text transform="translate(1311.06,1184.70) scale(0.9902,1)" font-family="'Liberation Sans', Arial, sans-serif" font-weight="bold" font-size="35.27" fill="#000">8</text>
<text transform="translate(1534.95,1184.70) scale(1.0193,1)" font-family="'Liberation Sans', Arial, sans-serif" font-weight="bold" font-size="35.27" fill="#000">16</text>
<text transform="translate(1283.09,1228.80) scale(1.0557,1)" font-family="'Liberation Sans', Arial, sans-serif" font-weight="bold" font-size="46.40" fill="#000">Floor#</text>
<text transform="translate(1075.40,1133.51) rotate(-90) scale(0.9158,1)" font-family="'Liberation Sans', Arial, sans-serif" font-weight="bold" font-size="45.53" fill="#007F00">Intrinsic gate delay (ps)</text>
<text transform="translate(1650.80,751.44) rotate(90) scale(0.9487,1)" font-family="'Liberation Sans', Arial, sans-serif" font-weight="bold" font-size="43.73" fill="#FF0000">Gate delay (ps)</text>
<line x1="1149.29" y1="768.95" x2="1201.23" y2="923.15" stroke="#FF0000" stroke-width="3"/>
<line x1="1215.52" y1="942.09" x2="1312.56" y2="1008.91" stroke="#FF0000" stroke-width="3"/>
<line x1="1335.19" y1="1018.07" x2="1545.81" y2="1053.43" stroke="#FF0000" stroke-width="3"/>
<line x1="1150.30" y1="892.94" x2="1201.22" y2="1043.66" stroke="#007F00" stroke-width="3.4"/>
<line x1="1216.73" y1="1060.37" x2="1311.35" y2="1100.43" stroke="#007F00" stroke-width="3.4"/>
<line x1="1335.32" y1="1106.30" x2="1545.68" y2="1123.20" stroke="#007F00" stroke-width="3.4"/>
<rect x="1135.70" y="747.80" width="19.20" height="18.60" fill="#FF0000"/>
<rect x="1195.62" y="925.70" width="19.20" height="18.60" fill="#FF0000"/>
<rect x="1313.26" y="1006.70" width="19.20" height="18.60" fill="#FF0000"/>
<rect x="1548.54" y="1046.20" width="19.20" height="18.60" fill="#FF0000"/>
<circle cx="1146.30" cy="881.10" r="10.2" fill="#007F00"/>
<circle cx="1205.22" cy="1055.50" r="10.2" fill="#007F00"/>
<circle cx="1322.86" cy="1105.30" r="10.2" fill="#007F00"/>
<circle cx="1558.14" cy="1124.20" r="10.2" fill="#007F00"/>
<line x1="1187.50" y1="751.50" x2="1212.60" y2="751.50" stroke="#FF0000" stroke-width="3"/>
<line x1="1239.80" y1="751.50" x2="1266.70" y2="751.50" stroke="#FF0000" stroke-width="3"/>
<rect x="1217.70" y="743.20" width="17.70" height="18.60" fill="#FF0000"/>
<line x1="1185.40" y1="795.10" x2="1265.70" y2="795.10" stroke="#007F00" stroke-width="3.4"/>
<circle cx="1225.6" cy="795.1" r="9.8" fill="#007F00"/>
<text transform="translate(1275.18,761.70) scale(1.0211,1)" font-family="'Liberation Sans', Arial, sans-serif" font-weight="bold" font-size="30.76" fill="#FF0000">w/</text>
<text transform="translate(1319.35,762.60) scale(0.9096,1)" font-family="'Liberation Sans', Arial, sans-serif" font-weight="bold" font-size="34.41" fill="#FF0000">C</text>
<text transform="translate(1342.29,772.00)" font-family="'Liberation Sans', Arial, sans-serif" font-weight="bold" font-size="20.14" fill="#FF0000" letter-spacing="1.56">interconnect</text>
<text transform="translate(1479.45,756.00) scale(1.6167,1)" font-family="'Liberation Sans', Arial, sans-serif" font-weight="bold" font-size="21.15" fill="#FF0000">=</text>
<text transform="translate(1499.34,762.60) scale(0.9140,1)" font-family="'Liberation Sans', Arial, sans-serif" font-weight="bold" font-size="34.41" fill="#FF0000">C</text>
<text transform="translate(1525.06,772.00)" font-family="'Liberation Sans', Arial, sans-serif" font-weight="bold" font-size="19.07" fill="#FF0000" letter-spacing="2.61">par</text>
<text transform="translate(1272.69,804.60) scale(1.1110,1)" font-family="'Liberation Sans', Arial, sans-serif" font-weight="bold" font-size="30.76" fill="#007F00">w/o</text>
<text transform="translate(1338.99,805.40) scale(0.9495,1)" font-family="'Liberation Sans', Arial, sans-serif" font-weight="bold" font-size="34.41" fill="#007F00">C</text>
<text transform="translate(1362.81,815.70)" font-family="'Liberation Sans', Arial, sans-serif" font-weight="bold" font-size="21.24" fill="#007F00" letter-spacing="0.96">interconnect</text>
<text transform="translate(1124.52,744.60) scale(0.9929,1)" font-family="'Liberation Sans', Arial, sans-serif" font-weight="bold" font-size="33.45" fill="#FF0000">1X</text>
<text transform="translate(1122.91,859.60) scale(0.9686,1)" font-family="'Liberation Sans', Arial, sans-serif" font-weight="bold" font-size="34.47" fill="#007F00">1X</text>
<text transform="translate(1464.32,1026.60)" font-family="'Liberation Sans', Arial, sans-serif" font-weight="bold" font-size="32.11" fill="#FF0000" letter-spacing="1.66">0.23X</text>
<text transform="translate(1460.69,1103.10)" font-family="'Liberation Sans', Arial, sans-serif" font-weight="bold" font-size="32.83" fill="#007F00" letter-spacing="1.20">0.54X</text>
<text transform="translate(1133.25,1123.10) scale(0.9343,1)" font-family="'Liberation Sans', Arial, sans-serif" font-weight="normal" font-size="31.42" fill="#000" stroke="#000" stroke-width="0.6">V</text>
<text transform="translate(1152.42,1126.80)" font-family="'Liberation Sans', Arial, sans-serif" font-weight="normal" font-size="21.53" fill="#000" stroke="#000" stroke-width="0.6">DD</text>
<text transform="translate(1188.26,1117.50) scale(1.6082,1)" font-family="'Liberation Sans', Arial, sans-serif" font-weight="normal" font-size="21.43" fill="#000" stroke="#000" stroke-width="0.6">=</text>
<text transform="translate(1215.42,1123.10) scale(0.9547,1)" font-family="'Liberation Sans', Arial, sans-serif" font-weight="normal" font-size="30.97" fill="#000" stroke="#000" stroke-width="0.6">0.5V</text>
</svg>
</body></html>
